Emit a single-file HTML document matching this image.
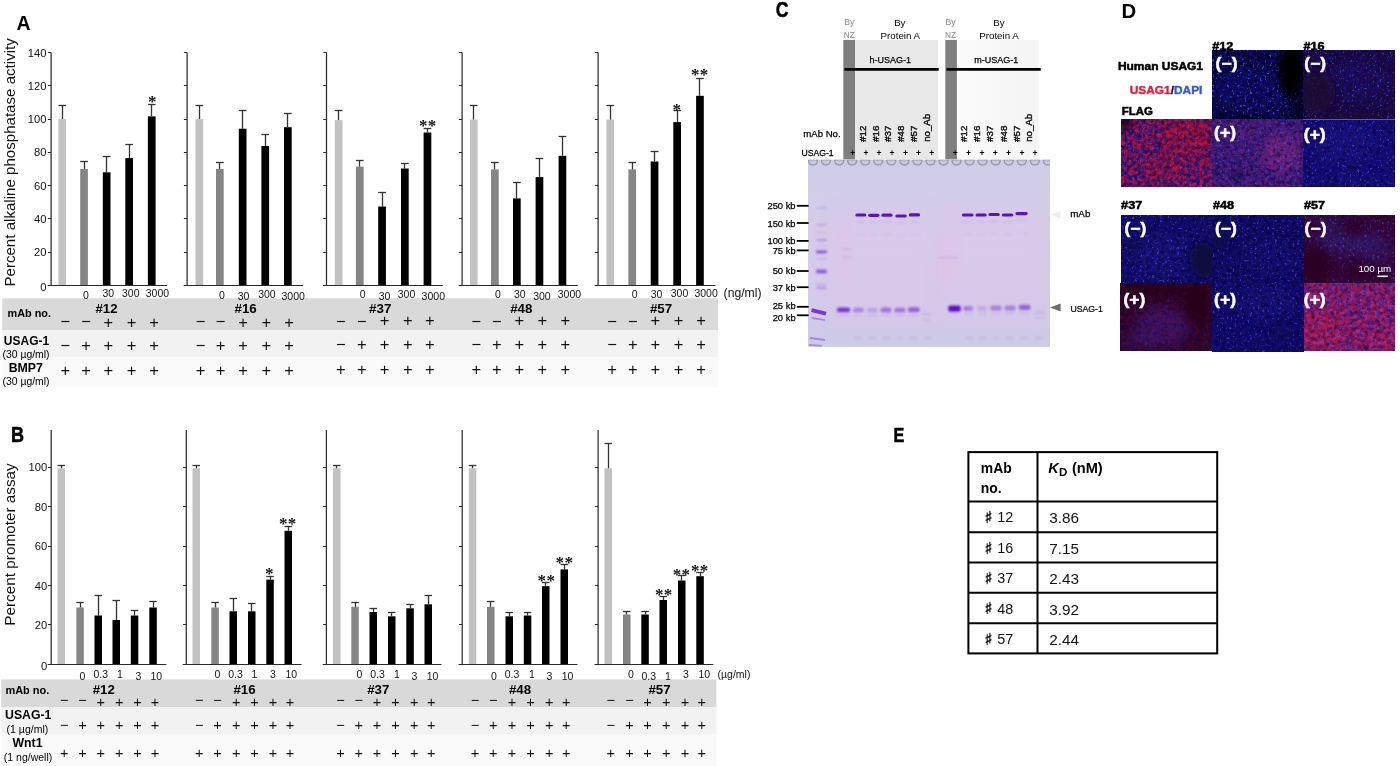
<!DOCTYPE html>
<html lang="en"><head><meta charset="utf-8"><title>Figure</title>
<style>html,body{margin:0;padding:0;background:#fff;}svg{display:block;}text{white-space:pre;}</style></head><body>
<svg width="1400" height="766" viewBox="0 0 1400 766" font-family='"Liberation Sans", sans-serif'>
<rect x="0.0" y="0.0" width="1400.0" height="766.0" fill="#fff"/>
<rect x="2.2" y="298.3" width="715.8" height="32.1" fill="#d9d9d9"/>
<rect x="2.2" y="330.4" width="715.8" height="27.0" fill="#f2f2f2"/>
<rect x="2.2" y="357.4" width="715.8" height="30.0" fill="#fafafa"/>
<rect x="58.4" y="119.1" width="7.7" height="166.2" fill="#c2c2c2"/>
<line x1="62.5" y1="119.1" x2="62.5" y2="105.5" stroke="#333" stroke-width="1.3"/>
<line x1="58.4" y1="105.5" x2="66.1" y2="105.5" stroke="#333" stroke-width="1.3"/>
<rect x="80.2" y="168.9" width="7.7" height="116.4" fill="#858585"/>
<line x1="84.5" y1="168.9" x2="84.5" y2="161.5" stroke="#333" stroke-width="1.3"/>
<line x1="80.2" y1="161.5" x2="87.9" y2="161.5" stroke="#333" stroke-width="1.3"/>
<rect x="102.8" y="172.3" width="7.7" height="113.0" fill="#000"/>
<line x1="106.5" y1="172.3" x2="106.5" y2="156.5" stroke="#333" stroke-width="1.3"/>
<line x1="102.8" y1="156.5" x2="110.5" y2="156.5" stroke="#333" stroke-width="1.3"/>
<rect x="125.3" y="158.1" width="7.7" height="127.2" fill="#000"/>
<line x1="129.5" y1="158.1" x2="129.5" y2="144.5" stroke="#333" stroke-width="1.3"/>
<line x1="125.3" y1="144.5" x2="133.0" y2="144.5" stroke="#333" stroke-width="1.3"/>
<rect x="147.9" y="116.4" width="7.7" height="168.9" fill="#000"/>
<line x1="151.5" y1="116.4" x2="151.5" y2="104.5" stroke="#333" stroke-width="1.3"/>
<line x1="147.9" y1="104.5" x2="155.6" y2="104.5" stroke="#333" stroke-width="1.3"/>
<line x1="51.1" y1="52.6" x2="51.1" y2="285.3" stroke="#2a2a2a" stroke-width="1.25"/>
<line x1="47.7" y1="285.5" x2="167.1" y2="285.5" stroke="#2a2a2a" stroke-width="1"/>
<line x1="47.9" y1="252.5" x2="51.1" y2="252.5" stroke="#2a2a2a" stroke-width="1"/>
<line x1="47.9" y1="218.5" x2="51.1" y2="218.5" stroke="#2a2a2a" stroke-width="1"/>
<line x1="47.9" y1="185.5" x2="51.1" y2="185.5" stroke="#2a2a2a" stroke-width="1"/>
<line x1="47.9" y1="152.5" x2="51.1" y2="152.5" stroke="#2a2a2a" stroke-width="1"/>
<line x1="47.9" y1="119.5" x2="51.1" y2="119.5" stroke="#2a2a2a" stroke-width="1"/>
<line x1="47.9" y1="85.5" x2="51.1" y2="85.5" stroke="#2a2a2a" stroke-width="1"/>
<line x1="47.9" y1="52.5" x2="51.1" y2="52.5" stroke="#2a2a2a" stroke-width="1"/>
<rect x="195.5" y="119.1" width="7.7" height="166.2" fill="#c2c2c2"/>
<line x1="199.5" y1="119.1" x2="199.5" y2="105.5" stroke="#333" stroke-width="1.3"/>
<line x1="195.5" y1="105.5" x2="203.2" y2="105.5" stroke="#333" stroke-width="1.3"/>
<rect x="216.0" y="168.9" width="7.7" height="116.4" fill="#858585"/>
<line x1="219.5" y1="168.9" x2="219.5" y2="162.5" stroke="#333" stroke-width="1.3"/>
<line x1="216.0" y1="162.5" x2="223.7" y2="162.5" stroke="#333" stroke-width="1.3"/>
<rect x="238.8" y="128.7" width="7.7" height="156.6" fill="#000"/>
<line x1="242.5" y1="128.7" x2="242.5" y2="110.5" stroke="#333" stroke-width="1.3"/>
<line x1="238.8" y1="110.5" x2="246.5" y2="110.5" stroke="#333" stroke-width="1.3"/>
<rect x="261.4" y="146.0" width="7.7" height="139.3" fill="#000"/>
<line x1="265.5" y1="146.0" x2="265.5" y2="134.5" stroke="#333" stroke-width="1.3"/>
<line x1="261.4" y1="134.5" x2="269.1" y2="134.5" stroke="#333" stroke-width="1.3"/>
<rect x="284.0" y="127.2" width="7.7" height="158.1" fill="#000"/>
<line x1="287.5" y1="127.2" x2="287.5" y2="113.5" stroke="#333" stroke-width="1.3"/>
<line x1="284.0" y1="113.5" x2="291.7" y2="113.5" stroke="#333" stroke-width="1.3"/>
<line x1="187.1" y1="52.6" x2="187.1" y2="285.3" stroke="#2a2a2a" stroke-width="1.25"/>
<line x1="183.7" y1="285.5" x2="303.2" y2="285.5" stroke="#2a2a2a" stroke-width="1"/>
<line x1="183.9" y1="252.5" x2="187.1" y2="252.5" stroke="#2a2a2a" stroke-width="1"/>
<line x1="183.9" y1="218.5" x2="187.1" y2="218.5" stroke="#2a2a2a" stroke-width="1"/>
<line x1="183.9" y1="185.5" x2="187.1" y2="185.5" stroke="#2a2a2a" stroke-width="1"/>
<line x1="183.9" y1="152.5" x2="187.1" y2="152.5" stroke="#2a2a2a" stroke-width="1"/>
<line x1="183.9" y1="119.5" x2="187.1" y2="119.5" stroke="#2a2a2a" stroke-width="1"/>
<line x1="183.9" y1="85.5" x2="187.1" y2="85.5" stroke="#2a2a2a" stroke-width="1"/>
<line x1="183.9" y1="52.5" x2="187.1" y2="52.5" stroke="#2a2a2a" stroke-width="1"/>
<rect x="334.8" y="120.1" width="7.7" height="165.2" fill="#c2c2c2"/>
<line x1="338.5" y1="120.1" x2="338.5" y2="110.5" stroke="#333" stroke-width="1.3"/>
<line x1="334.8" y1="110.5" x2="342.5" y2="110.5" stroke="#333" stroke-width="1.3"/>
<rect x="355.9" y="166.6" width="7.7" height="118.7" fill="#858585"/>
<line x1="359.5" y1="166.6" x2="359.5" y2="160.5" stroke="#333" stroke-width="1.3"/>
<line x1="355.9" y1="160.5" x2="363.6" y2="160.5" stroke="#333" stroke-width="1.3"/>
<rect x="378.2" y="206.5" width="7.7" height="78.8" fill="#000"/>
<line x1="382.5" y1="206.5" x2="382.5" y2="192.5" stroke="#333" stroke-width="1.3"/>
<line x1="378.2" y1="192.5" x2="385.9" y2="192.5" stroke="#333" stroke-width="1.3"/>
<rect x="401.0" y="168.5" width="7.7" height="116.8" fill="#000"/>
<line x1="404.5" y1="168.5" x2="404.5" y2="163.5" stroke="#333" stroke-width="1.3"/>
<line x1="401.0" y1="163.5" x2="408.7" y2="163.5" stroke="#333" stroke-width="1.3"/>
<rect x="423.6" y="132.5" width="7.7" height="152.8" fill="#000"/>
<line x1="427.5" y1="132.5" x2="427.5" y2="128.5" stroke="#333" stroke-width="1.3"/>
<line x1="423.6" y1="128.5" x2="431.3" y2="128.5" stroke="#333" stroke-width="1.3"/>
<line x1="326.5" y1="52.6" x2="326.5" y2="285.3" stroke="#2a2a2a" stroke-width="1.25"/>
<line x1="323.1" y1="285.5" x2="442.8" y2="285.5" stroke="#2a2a2a" stroke-width="1"/>
<line x1="323.3" y1="252.5" x2="326.5" y2="252.5" stroke="#2a2a2a" stroke-width="1"/>
<line x1="323.3" y1="218.5" x2="326.5" y2="218.5" stroke="#2a2a2a" stroke-width="1"/>
<line x1="323.3" y1="185.5" x2="326.5" y2="185.5" stroke="#2a2a2a" stroke-width="1"/>
<line x1="323.3" y1="152.5" x2="326.5" y2="152.5" stroke="#2a2a2a" stroke-width="1"/>
<line x1="323.3" y1="119.5" x2="326.5" y2="119.5" stroke="#2a2a2a" stroke-width="1"/>
<line x1="323.3" y1="85.5" x2="326.5" y2="85.5" stroke="#2a2a2a" stroke-width="1"/>
<line x1="323.3" y1="52.5" x2="326.5" y2="52.5" stroke="#2a2a2a" stroke-width="1"/>
<rect x="469.9" y="119.6" width="7.7" height="165.7" fill="#c2c2c2"/>
<line x1="473.5" y1="119.6" x2="473.5" y2="105.5" stroke="#333" stroke-width="1.3"/>
<line x1="469.9" y1="105.5" x2="477.6" y2="105.5" stroke="#333" stroke-width="1.3"/>
<rect x="491.0" y="169.4" width="7.7" height="115.9" fill="#858585"/>
<line x1="494.5" y1="169.4" x2="494.5" y2="162.5" stroke="#333" stroke-width="1.3"/>
<line x1="491.0" y1="162.5" x2="498.7" y2="162.5" stroke="#333" stroke-width="1.3"/>
<rect x="513.0" y="198.4" width="7.7" height="86.9" fill="#000"/>
<line x1="516.5" y1="198.4" x2="516.5" y2="182.5" stroke="#333" stroke-width="1.3"/>
<line x1="513.0" y1="182.5" x2="520.7" y2="182.5" stroke="#333" stroke-width="1.3"/>
<rect x="535.6" y="177.1" width="7.7" height="108.2" fill="#000"/>
<line x1="539.5" y1="177.1" x2="539.5" y2="158.5" stroke="#333" stroke-width="1.3"/>
<line x1="535.6" y1="158.5" x2="543.3" y2="158.5" stroke="#333" stroke-width="1.3"/>
<rect x="558.6" y="155.8" width="7.7" height="129.5" fill="#000"/>
<line x1="562.5" y1="155.8" x2="562.5" y2="136.5" stroke="#333" stroke-width="1.3"/>
<line x1="558.6" y1="136.5" x2="566.3" y2="136.5" stroke="#333" stroke-width="1.3"/>
<line x1="462.1" y1="52.6" x2="462.1" y2="285.3" stroke="#2a2a2a" stroke-width="1.25"/>
<line x1="458.7" y1="285.5" x2="577.8" y2="285.5" stroke="#2a2a2a" stroke-width="1"/>
<line x1="458.9" y1="252.5" x2="462.1" y2="252.5" stroke="#2a2a2a" stroke-width="1"/>
<line x1="458.9" y1="218.5" x2="462.1" y2="218.5" stroke="#2a2a2a" stroke-width="1"/>
<line x1="458.9" y1="185.5" x2="462.1" y2="185.5" stroke="#2a2a2a" stroke-width="1"/>
<line x1="458.9" y1="152.5" x2="462.1" y2="152.5" stroke="#2a2a2a" stroke-width="1"/>
<line x1="458.9" y1="119.5" x2="462.1" y2="119.5" stroke="#2a2a2a" stroke-width="1"/>
<line x1="458.9" y1="85.5" x2="462.1" y2="85.5" stroke="#2a2a2a" stroke-width="1"/>
<line x1="458.9" y1="52.5" x2="462.1" y2="52.5" stroke="#2a2a2a" stroke-width="1"/>
<rect x="606.4" y="119.6" width="7.7" height="165.7" fill="#c2c2c2"/>
<line x1="610.5" y1="119.6" x2="610.5" y2="105.5" stroke="#333" stroke-width="1.3"/>
<line x1="606.4" y1="105.5" x2="614.1" y2="105.5" stroke="#333" stroke-width="1.3"/>
<rect x="628.4" y="169.4" width="7.7" height="115.9" fill="#858585"/>
<line x1="632.5" y1="169.4" x2="632.5" y2="162.5" stroke="#333" stroke-width="1.3"/>
<line x1="628.4" y1="162.5" x2="636.1" y2="162.5" stroke="#333" stroke-width="1.3"/>
<rect x="650.7" y="161.5" width="7.7" height="123.8" fill="#000"/>
<line x1="654.5" y1="161.5" x2="654.5" y2="151.5" stroke="#333" stroke-width="1.3"/>
<line x1="650.7" y1="151.5" x2="658.4" y2="151.5" stroke="#333" stroke-width="1.3"/>
<rect x="673.3" y="122.1" width="7.7" height="163.2" fill="#000"/>
<line x1="677.5" y1="122.1" x2="677.5" y2="110.5" stroke="#333" stroke-width="1.3"/>
<line x1="673.3" y1="110.5" x2="681.0" y2="110.5" stroke="#333" stroke-width="1.3"/>
<rect x="696.1" y="95.8" width="7.7" height="189.5" fill="#000"/>
<line x1="699.5" y1="95.8" x2="699.5" y2="78.5" stroke="#333" stroke-width="1.3"/>
<line x1="696.1" y1="78.5" x2="703.8" y2="78.5" stroke="#333" stroke-width="1.3"/>
<line x1="598.1" y1="52.6" x2="598.1" y2="285.3" stroke="#2a2a2a" stroke-width="1.25"/>
<line x1="594.7" y1="285.5" x2="715.3" y2="285.5" stroke="#2a2a2a" stroke-width="1"/>
<line x1="594.9" y1="252.5" x2="598.1" y2="252.5" stroke="#2a2a2a" stroke-width="1"/>
<line x1="594.9" y1="218.5" x2="598.1" y2="218.5" stroke="#2a2a2a" stroke-width="1"/>
<line x1="594.9" y1="185.5" x2="598.1" y2="185.5" stroke="#2a2a2a" stroke-width="1"/>
<line x1="594.9" y1="152.5" x2="598.1" y2="152.5" stroke="#2a2a2a" stroke-width="1"/>
<line x1="594.9" y1="119.5" x2="598.1" y2="119.5" stroke="#2a2a2a" stroke-width="1"/>
<line x1="594.9" y1="85.5" x2="598.1" y2="85.5" stroke="#2a2a2a" stroke-width="1"/>
<line x1="594.9" y1="52.5" x2="598.1" y2="52.5" stroke="#2a2a2a" stroke-width="1"/>
<text x="46.4" y="291.1" font-size="11.2" text-anchor="end" fill="#111">0</text>
<text x="46.4" y="256.2" font-size="11.2" text-anchor="end" fill="#111">20</text>
<text x="46.4" y="222.9" font-size="11.2" text-anchor="end" fill="#111">40</text>
<text x="46.4" y="189.7" font-size="11.2" text-anchor="end" fill="#111">60</text>
<text x="46.4" y="156.4" font-size="11.2" text-anchor="end" fill="#111">80</text>
<text x="46.4" y="123.2" font-size="11.2" text-anchor="end" fill="#111">100</text>
<text x="46.4" y="90.0" font-size="11.2" text-anchor="end" fill="#111">120</text>
<text x="46.4" y="56.7" font-size="11.2" text-anchor="end" fill="#111">140</text>
<text x="86.0" y="298.6" font-size="10.5" text-anchor="middle" fill="#111">0</text>
<text x="108.3" y="297.1" font-size="10.5" text-anchor="middle" fill="#111">30</text>
<text x="130.8" y="297.1" font-size="10.5" text-anchor="middle" fill="#111">300</text>
<text x="157.4" y="297.1" font-size="10.5" text-anchor="middle" fill="#111">3000</text>
<text x="221.8" y="299.1" font-size="10.5" text-anchor="middle" fill="#111">0</text>
<text x="243.6" y="299.6" font-size="10.5" text-anchor="middle" fill="#111">30</text>
<text x="266.9" y="298.3" font-size="10.5" text-anchor="middle" fill="#111">300</text>
<text x="293.2" y="299.6" font-size="10.5" text-anchor="middle" fill="#111">3000</text>
<text x="362.7" y="298.3" font-size="10.5" text-anchor="middle" fill="#111">0</text>
<text x="384.5" y="299.6" font-size="10.5" text-anchor="middle" fill="#111">30</text>
<text x="406.5" y="298.3" font-size="10.5" text-anchor="middle" fill="#111">300</text>
<text x="433.3" y="299.6" font-size="10.5" text-anchor="middle" fill="#111">3000</text>
<text x="498.0" y="298.3" font-size="10.5" text-anchor="middle" fill="#111">0</text>
<text x="519.8" y="298.3" font-size="10.5" text-anchor="middle" fill="#111">30</text>
<text x="541.9" y="299.6" font-size="10.5" text-anchor="middle" fill="#111">300</text>
<text x="569.4" y="297.8" font-size="10.5" text-anchor="middle" fill="#111">3000</text>
<text x="634.7" y="297.8" font-size="10.5" text-anchor="middle" fill="#111">0</text>
<text x="656.5" y="298.3" font-size="10.5" text-anchor="middle" fill="#111">30</text>
<text x="679.5" y="297.1" font-size="10.5" text-anchor="middle" fill="#111">300</text>
<text x="706.1" y="297.1" font-size="10.5" text-anchor="middle" fill="#111">3000</text>
<text x="723.6" y="297.4" font-size="12.2" text-anchor="start" fill="#111">(ng/ml)</text>
<text x="106.5" y="313.1" font-size="13.3" text-anchor="middle" font-weight="bold" fill="#000">#12</text>
<text x="245.6" y="313.1" font-size="13.3" text-anchor="middle" font-weight="bold" fill="#000">#16</text>
<text x="380.2" y="313.1" font-size="13.3" text-anchor="middle" font-weight="bold" fill="#000">#37</text>
<text x="521.3" y="313.1" font-size="13.3" text-anchor="middle" font-weight="bold" fill="#000">#48</text>
<text x="661.0" y="313.1" font-size="13.3" text-anchor="middle" font-weight="bold" fill="#000">#57</text>
<text x="65.2" y="326.6" font-size="16.5" text-anchor="middle" fill="#111">−</text>
<text x="65.2" y="351.3" font-size="16.5" text-anchor="middle" fill="#111">−</text>
<text x="65.2" y="375.6" font-size="16.5" text-anchor="middle" fill="#111">+</text>
<text x="86.0" y="326.6" font-size="16.5" text-anchor="middle" fill="#111">−</text>
<text x="86.0" y="351.3" font-size="16.5" text-anchor="middle" fill="#111">+</text>
<text x="86.0" y="375.6" font-size="16.5" text-anchor="middle" fill="#111">+</text>
<text x="108.3" y="327.6" font-size="16.5" text-anchor="middle" fill="#111">+</text>
<text x="108.3" y="351.3" font-size="16.5" text-anchor="middle" fill="#111">+</text>
<text x="108.3" y="375.6" font-size="16.5" text-anchor="middle" fill="#111">+</text>
<text x="131.6" y="327.6" font-size="16.5" text-anchor="middle" fill="#111">+</text>
<text x="131.6" y="351.3" font-size="16.5" text-anchor="middle" fill="#111">+</text>
<text x="131.6" y="375.6" font-size="16.5" text-anchor="middle" fill="#111">+</text>
<text x="154.1" y="327.6" font-size="16.5" text-anchor="middle" fill="#111">+</text>
<text x="154.1" y="351.3" font-size="16.5" text-anchor="middle" fill="#111">+</text>
<text x="154.1" y="375.6" font-size="16.5" text-anchor="middle" fill="#111">+</text>
<text x="200.5" y="326.6" font-size="16.5" text-anchor="middle" fill="#111">−</text>
<text x="200.5" y="351.3" font-size="16.5" text-anchor="middle" fill="#111">−</text>
<text x="200.5" y="375.6" font-size="16.5" text-anchor="middle" fill="#111">+</text>
<text x="220.6" y="326.6" font-size="16.5" text-anchor="middle" fill="#111">−</text>
<text x="220.6" y="351.3" font-size="16.5" text-anchor="middle" fill="#111">+</text>
<text x="220.6" y="375.6" font-size="16.5" text-anchor="middle" fill="#111">+</text>
<text x="243.1" y="327.6" font-size="16.5" text-anchor="middle" fill="#111">+</text>
<text x="243.1" y="351.3" font-size="16.5" text-anchor="middle" fill="#111">+</text>
<text x="243.1" y="375.6" font-size="16.5" text-anchor="middle" fill="#111">+</text>
<text x="266.4" y="327.6" font-size="16.5" text-anchor="middle" fill="#111">+</text>
<text x="266.4" y="351.3" font-size="16.5" text-anchor="middle" fill="#111">+</text>
<text x="266.4" y="375.6" font-size="16.5" text-anchor="middle" fill="#111">+</text>
<text x="289.0" y="327.6" font-size="16.5" text-anchor="middle" fill="#111">+</text>
<text x="289.0" y="351.3" font-size="16.5" text-anchor="middle" fill="#111">+</text>
<text x="289.0" y="375.6" font-size="16.5" text-anchor="middle" fill="#111">+</text>
<text x="340.9" y="326.6" font-size="16.5" text-anchor="middle" fill="#111">−</text>
<text x="340.9" y="350.0" font-size="16.5" text-anchor="middle" fill="#111">−</text>
<text x="340.9" y="374.8" font-size="16.5" text-anchor="middle" fill="#111">+</text>
<text x="361.9" y="326.6" font-size="16.5" text-anchor="middle" fill="#111">−</text>
<text x="361.9" y="350.0" font-size="16.5" text-anchor="middle" fill="#111">+</text>
<text x="361.9" y="374.8" font-size="16.5" text-anchor="middle" fill="#111">+</text>
<text x="384.5" y="326.3" font-size="16.5" text-anchor="middle" fill="#111">+</text>
<text x="384.5" y="350.0" font-size="16.5" text-anchor="middle" fill="#111">+</text>
<text x="384.5" y="374.8" font-size="16.5" text-anchor="middle" fill="#111">+</text>
<text x="407.8" y="326.3" font-size="16.5" text-anchor="middle" fill="#111">+</text>
<text x="407.8" y="350.0" font-size="16.5" text-anchor="middle" fill="#111">+</text>
<text x="407.8" y="374.8" font-size="16.5" text-anchor="middle" fill="#111">+</text>
<text x="429.8" y="326.3" font-size="16.5" text-anchor="middle" fill="#111">+</text>
<text x="429.8" y="350.0" font-size="16.5" text-anchor="middle" fill="#111">+</text>
<text x="429.8" y="374.8" font-size="16.5" text-anchor="middle" fill="#111">+</text>
<text x="476.2" y="326.6" font-size="16.5" text-anchor="middle" fill="#111">−</text>
<text x="476.2" y="350.0" font-size="16.5" text-anchor="middle" fill="#111">−</text>
<text x="476.2" y="374.8" font-size="16.5" text-anchor="middle" fill="#111">+</text>
<text x="496.7" y="326.6" font-size="16.5" text-anchor="middle" fill="#111">−</text>
<text x="496.7" y="350.0" font-size="16.5" text-anchor="middle" fill="#111">+</text>
<text x="496.7" y="374.8" font-size="16.5" text-anchor="middle" fill="#111">+</text>
<text x="519.3" y="326.3" font-size="16.5" text-anchor="middle" fill="#111">+</text>
<text x="519.3" y="350.0" font-size="16.5" text-anchor="middle" fill="#111">+</text>
<text x="519.3" y="374.8" font-size="16.5" text-anchor="middle" fill="#111">+</text>
<text x="542.4" y="326.3" font-size="16.5" text-anchor="middle" fill="#111">+</text>
<text x="542.4" y="350.0" font-size="16.5" text-anchor="middle" fill="#111">+</text>
<text x="542.4" y="374.8" font-size="16.5" text-anchor="middle" fill="#111">+</text>
<text x="565.2" y="326.3" font-size="16.5" text-anchor="middle" fill="#111">+</text>
<text x="565.2" y="350.0" font-size="16.5" text-anchor="middle" fill="#111">+</text>
<text x="565.2" y="374.8" font-size="16.5" text-anchor="middle" fill="#111">+</text>
<text x="612.1" y="326.6" font-size="16.5" text-anchor="middle" fill="#111">−</text>
<text x="612.1" y="350.0" font-size="16.5" text-anchor="middle" fill="#111">−</text>
<text x="612.1" y="374.8" font-size="16.5" text-anchor="middle" fill="#111">+</text>
<text x="632.7" y="326.6" font-size="16.5" text-anchor="middle" fill="#111">−</text>
<text x="632.7" y="350.0" font-size="16.5" text-anchor="middle" fill="#111">+</text>
<text x="632.7" y="374.8" font-size="16.5" text-anchor="middle" fill="#111">+</text>
<text x="655.2" y="326.3" font-size="16.5" text-anchor="middle" fill="#111">+</text>
<text x="655.2" y="350.0" font-size="16.5" text-anchor="middle" fill="#111">+</text>
<text x="655.2" y="374.8" font-size="16.5" text-anchor="middle" fill="#111">+</text>
<text x="678.5" y="326.3" font-size="16.5" text-anchor="middle" fill="#111">+</text>
<text x="678.5" y="350.0" font-size="16.5" text-anchor="middle" fill="#111">+</text>
<text x="678.5" y="374.8" font-size="16.5" text-anchor="middle" fill="#111">+</text>
<text x="701.1" y="326.3" font-size="16.5" text-anchor="middle" fill="#111">+</text>
<text x="701.1" y="350.0" font-size="16.5" text-anchor="middle" fill="#111">+</text>
<text x="701.1" y="374.8" font-size="16.5" text-anchor="middle" fill="#111">+</text>
<text transform="translate(7.5,317.4) scale(0.955,1)" font-size="11.4" text-anchor="start" font-weight="bold" fill="#000">mAb no.</text>
<text x="3.8" y="344.7" font-size="12.0" text-anchor="start" font-weight="bold" fill="#000">USAG-1</text>
<text x="2.5" y="357.5" font-size="10.4" text-anchor="start" fill="#000">(30 µg/ml)</text>
<text x="25.8" y="372.4" font-size="12.3" text-anchor="middle" font-weight="bold" fill="#000">BMP7</text>
<text x="2.5" y="384.9" font-size="10.4" text-anchor="start" fill="#000">(30 µg/ml)</text>
<text x="152.4" y="107.2" font-size="17" text-anchor="middle" font-weight="bold" fill="#111" font-family='"Liberation Serif", serif' letter-spacing="0.3">*</text>
<text x="427.8" y="130.5" font-size="17" text-anchor="middle" font-weight="bold" fill="#111" font-family='"Liberation Serif", serif' letter-spacing="0.3">**</text>
<text x="677.0" y="114.5" font-size="17" text-anchor="middle" font-weight="bold" fill="#111" font-family='"Liberation Serif", serif' letter-spacing="0.3">*</text>
<text x="699.8" y="79.9" font-size="17" text-anchor="middle" font-weight="bold" fill="#111" font-family='"Liberation Serif", serif' letter-spacing="0.3">**</text>
<text transform="translate(15.2,162.4) rotate(-90)" font-size="15.1" text-anchor="middle" fill="#111">Percent alkaline phosphatase activity</text>
<text transform="translate(16.5,30.4) scale(0.93,1)" font-size="21" text-anchor="start" font-weight="bold" fill="#000">A</text>
<rect x="1.2" y="679.4" width="715.2" height="27.6" fill="#d9d9d9"/>
<rect x="1.2" y="707.0" width="715.2" height="27.5" fill="#f2f2f2"/>
<rect x="1.2" y="734.5" width="715.2" height="31.5" fill="#fafafa"/>
<rect x="57.5" y="468.2" width="7.5" height="196.1" fill="#c2c2c2"/>
<line x1="61.5" y1="468.2" x2="61.5" y2="465.5" stroke="#333" stroke-width="1.3"/>
<line x1="57.5" y1="465.5" x2="65.0" y2="465.5" stroke="#333" stroke-width="1.3"/>
<rect x="76.3" y="607.5" width="7.5" height="56.8" fill="#858585"/>
<line x1="80.5" y1="607.5" x2="80.5" y2="602.5" stroke="#333" stroke-width="1.3"/>
<line x1="76.3" y1="602.5" x2="83.8" y2="602.5" stroke="#333" stroke-width="1.3"/>
<rect x="94.5" y="615.5" width="7.5" height="48.8" fill="#000"/>
<line x1="98.5" y1="615.5" x2="98.5" y2="595.5" stroke="#333" stroke-width="1.3"/>
<line x1="94.5" y1="595.5" x2="102.0" y2="595.5" stroke="#333" stroke-width="1.3"/>
<rect x="112.5" y="620.0" width="7.5" height="44.3" fill="#000"/>
<line x1="116.5" y1="620.0" x2="116.5" y2="600.5" stroke="#333" stroke-width="1.3"/>
<line x1="112.5" y1="600.5" x2="120.0" y2="600.5" stroke="#333" stroke-width="1.3"/>
<rect x="130.8" y="615.5" width="7.5" height="48.8" fill="#000"/>
<line x1="134.5" y1="615.5" x2="134.5" y2="610.5" stroke="#333" stroke-width="1.3"/>
<line x1="130.8" y1="610.5" x2="138.3" y2="610.5" stroke="#333" stroke-width="1.3"/>
<rect x="149.3" y="607.5" width="7.5" height="56.8" fill="#000"/>
<line x1="153.5" y1="607.5" x2="153.5" y2="601.5" stroke="#333" stroke-width="1.3"/>
<line x1="149.3" y1="601.5" x2="156.8" y2="601.5" stroke="#333" stroke-width="1.3"/>
<line x1="51.2" y1="430.0" x2="51.2" y2="664.3" stroke="#2a2a2a" stroke-width="1.25"/>
<line x1="47.6" y1="664.5" x2="166.3" y2="664.5" stroke="#2a2a2a" stroke-width="1"/>
<line x1="48.0" y1="624.5" x2="51.2" y2="624.5" stroke="#2a2a2a" stroke-width="1"/>
<line x1="48.0" y1="585.5" x2="51.2" y2="585.5" stroke="#2a2a2a" stroke-width="1"/>
<line x1="48.0" y1="546.5" x2="51.2" y2="546.5" stroke="#2a2a2a" stroke-width="1"/>
<line x1="48.0" y1="506.5" x2="51.2" y2="506.5" stroke="#2a2a2a" stroke-width="1"/>
<line x1="48.0" y1="467.5" x2="51.2" y2="467.5" stroke="#2a2a2a" stroke-width="1"/>
<rect x="192.5" y="468.2" width="7.5" height="196.1" fill="#c2c2c2"/>
<line x1="196.5" y1="468.2" x2="196.5" y2="465.5" stroke="#333" stroke-width="1.3"/>
<line x1="192.5" y1="465.5" x2="200.0" y2="465.5" stroke="#333" stroke-width="1.3"/>
<rect x="211.3" y="607.5" width="7.5" height="56.8" fill="#858585"/>
<line x1="215.5" y1="607.5" x2="215.5" y2="602.5" stroke="#333" stroke-width="1.3"/>
<line x1="211.3" y1="602.5" x2="218.8" y2="602.5" stroke="#333" stroke-width="1.3"/>
<rect x="229.5" y="611.3" width="7.5" height="53.0" fill="#000"/>
<line x1="233.5" y1="611.3" x2="233.5" y2="598.5" stroke="#333" stroke-width="1.3"/>
<line x1="229.5" y1="598.5" x2="237.0" y2="598.5" stroke="#333" stroke-width="1.3"/>
<rect x="248.0" y="611.3" width="7.5" height="53.0" fill="#000"/>
<line x1="251.5" y1="611.3" x2="251.5" y2="603.5" stroke="#333" stroke-width="1.3"/>
<line x1="248.0" y1="603.5" x2="255.5" y2="603.5" stroke="#333" stroke-width="1.3"/>
<rect x="266.3" y="579.6" width="7.5" height="84.7" fill="#000"/>
<line x1="270.5" y1="579.6" x2="270.5" y2="576.5" stroke="#333" stroke-width="1.3"/>
<line x1="266.3" y1="576.5" x2="273.8" y2="576.5" stroke="#333" stroke-width="1.3"/>
<rect x="284.5" y="530.8" width="7.5" height="133.5" fill="#000"/>
<line x1="288.5" y1="530.8" x2="288.5" y2="526.5" stroke="#333" stroke-width="1.3"/>
<line x1="284.5" y1="526.5" x2="292.0" y2="526.5" stroke="#333" stroke-width="1.3"/>
<line x1="186.3" y1="430.0" x2="186.3" y2="664.3" stroke="#2a2a2a" stroke-width="1.25"/>
<line x1="182.7" y1="664.5" x2="301.5" y2="664.5" stroke="#2a2a2a" stroke-width="1"/>
<line x1="183.1" y1="624.5" x2="186.3" y2="624.5" stroke="#2a2a2a" stroke-width="1"/>
<line x1="183.1" y1="585.5" x2="186.3" y2="585.5" stroke="#2a2a2a" stroke-width="1"/>
<line x1="183.1" y1="546.5" x2="186.3" y2="546.5" stroke="#2a2a2a" stroke-width="1"/>
<line x1="183.1" y1="506.5" x2="186.3" y2="506.5" stroke="#2a2a2a" stroke-width="1"/>
<line x1="183.1" y1="467.5" x2="186.3" y2="467.5" stroke="#2a2a2a" stroke-width="1"/>
<rect x="333.0" y="468.2" width="7.5" height="196.1" fill="#c2c2c2"/>
<line x1="336.5" y1="468.2" x2="336.5" y2="465.5" stroke="#333" stroke-width="1.3"/>
<line x1="333.0" y1="465.5" x2="340.5" y2="465.5" stroke="#333" stroke-width="1.3"/>
<rect x="351.3" y="606.8" width="7.5" height="57.5" fill="#858585"/>
<line x1="355.5" y1="606.8" x2="355.5" y2="602.5" stroke="#333" stroke-width="1.3"/>
<line x1="351.3" y1="602.5" x2="358.8" y2="602.5" stroke="#333" stroke-width="1.3"/>
<rect x="369.5" y="612.0" width="7.5" height="52.3" fill="#000"/>
<line x1="373.5" y1="612.0" x2="373.5" y2="608.5" stroke="#333" stroke-width="1.3"/>
<line x1="369.5" y1="608.5" x2="377.0" y2="608.5" stroke="#333" stroke-width="1.3"/>
<rect x="388.0" y="616.3" width="7.5" height="48.0" fill="#000"/>
<line x1="391.5" y1="616.3" x2="391.5" y2="612.5" stroke="#333" stroke-width="1.3"/>
<line x1="388.0" y1="612.5" x2="395.5" y2="612.5" stroke="#333" stroke-width="1.3"/>
<rect x="406.3" y="608.3" width="7.5" height="56.0" fill="#000"/>
<line x1="410.5" y1="608.3" x2="410.5" y2="604.5" stroke="#333" stroke-width="1.3"/>
<line x1="406.3" y1="604.5" x2="413.8" y2="604.5" stroke="#333" stroke-width="1.3"/>
<rect x="424.5" y="604.3" width="7.5" height="60.0" fill="#000"/>
<line x1="428.5" y1="604.3" x2="428.5" y2="595.5" stroke="#333" stroke-width="1.3"/>
<line x1="424.5" y1="595.5" x2="432.0" y2="595.5" stroke="#333" stroke-width="1.3"/>
<line x1="326.4" y1="430.0" x2="326.4" y2="664.3" stroke="#2a2a2a" stroke-width="1.25"/>
<line x1="322.8" y1="664.5" x2="441.5" y2="664.5" stroke="#2a2a2a" stroke-width="1"/>
<line x1="323.2" y1="624.5" x2="326.4" y2="624.5" stroke="#2a2a2a" stroke-width="1"/>
<line x1="323.2" y1="585.5" x2="326.4" y2="585.5" stroke="#2a2a2a" stroke-width="1"/>
<line x1="323.2" y1="546.5" x2="326.4" y2="546.5" stroke="#2a2a2a" stroke-width="1"/>
<line x1="323.2" y1="506.5" x2="326.4" y2="506.5" stroke="#2a2a2a" stroke-width="1"/>
<line x1="323.2" y1="467.5" x2="326.4" y2="467.5" stroke="#2a2a2a" stroke-width="1"/>
<rect x="468.8" y="468.2" width="7.5" height="196.1" fill="#c2c2c2"/>
<line x1="472.5" y1="468.2" x2="472.5" y2="465.5" stroke="#333" stroke-width="1.3"/>
<line x1="468.8" y1="465.5" x2="476.3" y2="465.5" stroke="#333" stroke-width="1.3"/>
<rect x="487.0" y="606.8" width="7.5" height="57.5" fill="#858585"/>
<line x1="490.5" y1="606.8" x2="490.5" y2="601.5" stroke="#333" stroke-width="1.3"/>
<line x1="487.0" y1="601.5" x2="494.5" y2="601.5" stroke="#333" stroke-width="1.3"/>
<rect x="505.5" y="616.3" width="7.5" height="48.0" fill="#000"/>
<line x1="509.5" y1="616.3" x2="509.5" y2="612.5" stroke="#333" stroke-width="1.3"/>
<line x1="505.5" y1="612.5" x2="513.0" y2="612.5" stroke="#333" stroke-width="1.3"/>
<rect x="523.8" y="615.5" width="7.5" height="48.8" fill="#000"/>
<line x1="527.5" y1="615.5" x2="527.5" y2="612.5" stroke="#333" stroke-width="1.3"/>
<line x1="523.8" y1="612.5" x2="531.3" y2="612.5" stroke="#333" stroke-width="1.3"/>
<rect x="542.0" y="586.2" width="7.5" height="78.1" fill="#000"/>
<line x1="545.5" y1="586.2" x2="545.5" y2="582.5" stroke="#333" stroke-width="1.3"/>
<line x1="542.0" y1="582.5" x2="549.5" y2="582.5" stroke="#333" stroke-width="1.3"/>
<rect x="560.5" y="569.4" width="7.5" height="94.9" fill="#000"/>
<line x1="564.5" y1="569.4" x2="564.5" y2="564.5" stroke="#333" stroke-width="1.3"/>
<line x1="560.5" y1="564.5" x2="568.0" y2="564.5" stroke="#333" stroke-width="1.3"/>
<line x1="462.2" y1="430.0" x2="462.2" y2="664.3" stroke="#2a2a2a" stroke-width="1.25"/>
<line x1="458.6" y1="664.5" x2="577.5" y2="664.5" stroke="#2a2a2a" stroke-width="1"/>
<line x1="459.0" y1="624.5" x2="462.2" y2="624.5" stroke="#2a2a2a" stroke-width="1"/>
<line x1="459.0" y1="585.5" x2="462.2" y2="585.5" stroke="#2a2a2a" stroke-width="1"/>
<line x1="459.0" y1="546.5" x2="462.2" y2="546.5" stroke="#2a2a2a" stroke-width="1"/>
<line x1="459.0" y1="506.5" x2="462.2" y2="506.5" stroke="#2a2a2a" stroke-width="1"/>
<line x1="459.0" y1="467.5" x2="462.2" y2="467.5" stroke="#2a2a2a" stroke-width="1"/>
<rect x="604.5" y="468.2" width="7.5" height="196.1" fill="#c2c2c2"/>
<line x1="608.5" y1="468.2" x2="608.5" y2="443.5" stroke="#333" stroke-width="1.3"/>
<line x1="604.5" y1="443.5" x2="612.0" y2="443.5" stroke="#333" stroke-width="1.3"/>
<rect x="623.0" y="614.5" width="7.5" height="49.8" fill="#858585"/>
<line x1="626.5" y1="614.5" x2="626.5" y2="611.5" stroke="#333" stroke-width="1.3"/>
<line x1="623.0" y1="611.5" x2="630.5" y2="611.5" stroke="#333" stroke-width="1.3"/>
<rect x="641.3" y="614.5" width="7.5" height="49.8" fill="#000"/>
<line x1="645.5" y1="614.5" x2="645.5" y2="611.5" stroke="#333" stroke-width="1.3"/>
<line x1="641.3" y1="611.5" x2="648.8" y2="611.5" stroke="#333" stroke-width="1.3"/>
<rect x="659.5" y="600.0" width="7.5" height="64.3" fill="#000"/>
<line x1="663.5" y1="600.0" x2="663.5" y2="596.5" stroke="#333" stroke-width="1.3"/>
<line x1="659.5" y1="596.5" x2="667.0" y2="596.5" stroke="#333" stroke-width="1.3"/>
<rect x="678.0" y="580.5" width="7.5" height="83.8" fill="#000"/>
<line x1="681.5" y1="580.5" x2="681.5" y2="575.5" stroke="#333" stroke-width="1.3"/>
<line x1="678.0" y1="575.5" x2="685.5" y2="575.5" stroke="#333" stroke-width="1.3"/>
<rect x="696.3" y="576.2" width="7.5" height="88.1" fill="#000"/>
<line x1="700.5" y1="576.2" x2="700.5" y2="572.5" stroke="#333" stroke-width="1.3"/>
<line x1="696.3" y1="572.5" x2="703.8" y2="572.5" stroke="#333" stroke-width="1.3"/>
<line x1="598.1" y1="430.0" x2="598.1" y2="664.3" stroke="#2a2a2a" stroke-width="1.25"/>
<line x1="594.5" y1="664.5" x2="713.3" y2="664.5" stroke="#2a2a2a" stroke-width="1"/>
<line x1="594.9" y1="624.5" x2="598.1" y2="624.5" stroke="#2a2a2a" stroke-width="1"/>
<line x1="594.9" y1="585.5" x2="598.1" y2="585.5" stroke="#2a2a2a" stroke-width="1"/>
<line x1="594.9" y1="546.5" x2="598.1" y2="546.5" stroke="#2a2a2a" stroke-width="1"/>
<line x1="594.9" y1="506.5" x2="598.1" y2="506.5" stroke="#2a2a2a" stroke-width="1"/>
<line x1="594.9" y1="467.5" x2="598.1" y2="467.5" stroke="#2a2a2a" stroke-width="1"/>
<text x="47.2" y="670.1" font-size="11.2" text-anchor="end" fill="#111">0</text>
<text x="47.2" y="629.1" font-size="11.2" text-anchor="end" fill="#111">20</text>
<text x="47.2" y="589.7" font-size="11.2" text-anchor="end" fill="#111">40</text>
<text x="47.2" y="550.2" font-size="11.2" text-anchor="end" fill="#111">60</text>
<text x="47.2" y="510.8" font-size="11.2" text-anchor="end" fill="#111">80</text>
<text x="47.2" y="471.4" font-size="11.2" text-anchor="end" fill="#111">100</text>
<text x="82.5" y="679.6" font-size="10.5" text-anchor="middle" fill="#111">0</text>
<text x="100.8" y="678.3" font-size="10.5" text-anchor="middle" fill="#111">0.3</text>
<text x="120.0" y="678.3" font-size="10.5" text-anchor="middle" fill="#111">1</text>
<text x="138.3" y="679.6" font-size="10.5" text-anchor="middle" fill="#111">3</text>
<text x="156.3" y="679.6" font-size="10.5" text-anchor="middle" fill="#111">10</text>
<text x="217.5" y="678.3" font-size="10.5" text-anchor="middle" fill="#111">0</text>
<text x="235.5" y="678.3" font-size="10.5" text-anchor="middle" fill="#111">0.3</text>
<text x="254.5" y="678.3" font-size="10.5" text-anchor="middle" fill="#111">1</text>
<text x="273.0" y="678.3" font-size="10.5" text-anchor="middle" fill="#111">3</text>
<text x="291.3" y="678.3" font-size="10.5" text-anchor="middle" fill="#111">10</text>
<text x="359.3" y="678.3" font-size="10.5" text-anchor="middle" fill="#111">0</text>
<text x="377.5" y="678.3" font-size="10.5" text-anchor="middle" fill="#111">0.3</text>
<text x="397.0" y="678.3" font-size="10.5" text-anchor="middle" fill="#111">1</text>
<text x="414.5" y="679.6" font-size="10.5" text-anchor="middle" fill="#111">3</text>
<text x="432.5" y="679.6" font-size="10.5" text-anchor="middle" fill="#111">10</text>
<text x="493.8" y="679.6" font-size="10.5" text-anchor="middle" fill="#111">0</text>
<text x="512.0" y="678.3" font-size="10.5" text-anchor="middle" fill="#111">0.3</text>
<text x="531.8" y="678.3" font-size="10.5" text-anchor="middle" fill="#111">1</text>
<text x="549.5" y="679.6" font-size="10.5" text-anchor="middle" fill="#111">3</text>
<text x="567.5" y="679.6" font-size="10.5" text-anchor="middle" fill="#111">10</text>
<text x="630.8" y="678.3" font-size="10.5" text-anchor="middle" fill="#111">0</text>
<text x="648.8" y="679.6" font-size="10.5" text-anchor="middle" fill="#111">0.3</text>
<text x="668.0" y="679.6" font-size="10.5" text-anchor="middle" fill="#111">1</text>
<text x="685.8" y="678.3" font-size="10.5" text-anchor="middle" fill="#111">3</text>
<text x="704.3" y="678.3" font-size="10.5" text-anchor="middle" fill="#111">10</text>
<text x="717.5" y="678.3" font-size="10.5" text-anchor="start" fill="#111">(µg/ml)</text>
<text x="103.8" y="694.3" font-size="13.3" text-anchor="middle" font-weight="bold" fill="#000">#12</text>
<text x="244.5" y="694.3" font-size="13.3" text-anchor="middle" font-weight="bold" fill="#000">#16</text>
<text x="378.3" y="694.3" font-size="13.3" text-anchor="middle" font-weight="bold" fill="#000">#37</text>
<text x="520.0" y="694.3" font-size="13.3" text-anchor="middle" font-weight="bold" fill="#000">#48</text>
<text x="659.5" y="694.3" font-size="13.3" text-anchor="middle" font-weight="bold" fill="#000">#57</text>
<text x="64.3" y="704.7" font-size="14.5" text-anchor="middle" fill="#111">−</text>
<text x="64.3" y="729.7" font-size="14.5" text-anchor="middle" fill="#111">−</text>
<text x="64.3" y="757.9" font-size="14.5" text-anchor="middle" fill="#111">+</text>
<text x="82.5" y="704.7" font-size="14.5" text-anchor="middle" fill="#111">−</text>
<text x="82.5" y="729.7" font-size="14.5" text-anchor="middle" fill="#111">+</text>
<text x="82.5" y="757.9" font-size="14.5" text-anchor="middle" fill="#111">+</text>
<text x="100.8" y="706.7" font-size="14.5" text-anchor="middle" fill="#111">+</text>
<text x="100.8" y="729.7" font-size="14.5" text-anchor="middle" fill="#111">+</text>
<text x="100.8" y="757.9" font-size="14.5" text-anchor="middle" fill="#111">+</text>
<text x="119.3" y="706.7" font-size="14.5" text-anchor="middle" fill="#111">+</text>
<text x="119.3" y="729.7" font-size="14.5" text-anchor="middle" fill="#111">+</text>
<text x="119.3" y="757.9" font-size="14.5" text-anchor="middle" fill="#111">+</text>
<text x="137.5" y="706.7" font-size="14.5" text-anchor="middle" fill="#111">+</text>
<text x="137.5" y="729.7" font-size="14.5" text-anchor="middle" fill="#111">+</text>
<text x="137.5" y="757.9" font-size="14.5" text-anchor="middle" fill="#111">+</text>
<text x="155.0" y="706.7" font-size="14.5" text-anchor="middle" fill="#111">+</text>
<text x="155.0" y="729.7" font-size="14.5" text-anchor="middle" fill="#111">+</text>
<text x="155.0" y="757.9" font-size="14.5" text-anchor="middle" fill="#111">+</text>
<text x="199.3" y="704.7" font-size="14.5" text-anchor="middle" fill="#111">−</text>
<text x="199.3" y="729.7" font-size="14.5" text-anchor="middle" fill="#111">−</text>
<text x="199.3" y="757.9" font-size="14.5" text-anchor="middle" fill="#111">+</text>
<text x="217.5" y="704.7" font-size="14.5" text-anchor="middle" fill="#111">−</text>
<text x="217.5" y="729.7" font-size="14.5" text-anchor="middle" fill="#111">+</text>
<text x="217.5" y="757.9" font-size="14.5" text-anchor="middle" fill="#111">+</text>
<text x="236.3" y="706.7" font-size="14.5" text-anchor="middle" fill="#111">+</text>
<text x="236.3" y="729.7" font-size="14.5" text-anchor="middle" fill="#111">+</text>
<text x="236.3" y="757.9" font-size="14.5" text-anchor="middle" fill="#111">+</text>
<text x="254.5" y="706.7" font-size="14.5" text-anchor="middle" fill="#111">+</text>
<text x="254.5" y="729.7" font-size="14.5" text-anchor="middle" fill="#111">+</text>
<text x="254.5" y="757.9" font-size="14.5" text-anchor="middle" fill="#111">+</text>
<text x="273.0" y="706.7" font-size="14.5" text-anchor="middle" fill="#111">+</text>
<text x="273.0" y="729.7" font-size="14.5" text-anchor="middle" fill="#111">+</text>
<text x="273.0" y="757.9" font-size="14.5" text-anchor="middle" fill="#111">+</text>
<text x="290.0" y="706.7" font-size="14.5" text-anchor="middle" fill="#111">+</text>
<text x="290.0" y="729.7" font-size="14.5" text-anchor="middle" fill="#111">+</text>
<text x="290.0" y="757.9" font-size="14.5" text-anchor="middle" fill="#111">+</text>
<text x="340.5" y="704.7" font-size="14.5" text-anchor="middle" fill="#111">−</text>
<text x="340.5" y="729.7" font-size="14.5" text-anchor="middle" fill="#111">−</text>
<text x="340.5" y="757.9" font-size="14.5" text-anchor="middle" fill="#111">+</text>
<text x="358.8" y="704.7" font-size="14.5" text-anchor="middle" fill="#111">−</text>
<text x="358.8" y="729.7" font-size="14.5" text-anchor="middle" fill="#111">+</text>
<text x="358.8" y="757.9" font-size="14.5" text-anchor="middle" fill="#111">+</text>
<text x="377.0" y="706.7" font-size="14.5" text-anchor="middle" fill="#111">+</text>
<text x="377.0" y="729.7" font-size="14.5" text-anchor="middle" fill="#111">+</text>
<text x="377.0" y="757.9" font-size="14.5" text-anchor="middle" fill="#111">+</text>
<text x="395.5" y="706.7" font-size="14.5" text-anchor="middle" fill="#111">+</text>
<text x="395.5" y="729.7" font-size="14.5" text-anchor="middle" fill="#111">+</text>
<text x="395.5" y="757.9" font-size="14.5" text-anchor="middle" fill="#111">+</text>
<text x="414.3" y="706.7" font-size="14.5" text-anchor="middle" fill="#111">+</text>
<text x="414.3" y="729.7" font-size="14.5" text-anchor="middle" fill="#111">+</text>
<text x="414.3" y="757.9" font-size="14.5" text-anchor="middle" fill="#111">+</text>
<text x="431.3" y="706.7" font-size="14.5" text-anchor="middle" fill="#111">+</text>
<text x="431.3" y="729.7" font-size="14.5" text-anchor="middle" fill="#111">+</text>
<text x="431.3" y="757.9" font-size="14.5" text-anchor="middle" fill="#111">+</text>
<text x="475.0" y="704.7" font-size="14.5" text-anchor="middle" fill="#111">−</text>
<text x="475.0" y="729.7" font-size="14.5" text-anchor="middle" fill="#111">−</text>
<text x="475.0" y="757.9" font-size="14.5" text-anchor="middle" fill="#111">+</text>
<text x="493.3" y="704.7" font-size="14.5" text-anchor="middle" fill="#111">−</text>
<text x="493.3" y="729.7" font-size="14.5" text-anchor="middle" fill="#111">+</text>
<text x="493.3" y="757.9" font-size="14.5" text-anchor="middle" fill="#111">+</text>
<text x="512.0" y="706.7" font-size="14.5" text-anchor="middle" fill="#111">+</text>
<text x="512.0" y="729.7" font-size="14.5" text-anchor="middle" fill="#111">+</text>
<text x="512.0" y="757.9" font-size="14.5" text-anchor="middle" fill="#111">+</text>
<text x="530.5" y="706.7" font-size="14.5" text-anchor="middle" fill="#111">+</text>
<text x="530.5" y="729.7" font-size="14.5" text-anchor="middle" fill="#111">+</text>
<text x="530.5" y="757.9" font-size="14.5" text-anchor="middle" fill="#111">+</text>
<text x="549.3" y="706.7" font-size="14.5" text-anchor="middle" fill="#111">+</text>
<text x="549.3" y="729.7" font-size="14.5" text-anchor="middle" fill="#111">+</text>
<text x="549.3" y="757.9" font-size="14.5" text-anchor="middle" fill="#111">+</text>
<text x="566.3" y="706.7" font-size="14.5" text-anchor="middle" fill="#111">+</text>
<text x="566.3" y="729.7" font-size="14.5" text-anchor="middle" fill="#111">+</text>
<text x="566.3" y="757.9" font-size="14.5" text-anchor="middle" fill="#111">+</text>
<text x="610.8" y="704.7" font-size="14.5" text-anchor="middle" fill="#111">−</text>
<text x="610.8" y="729.7" font-size="14.5" text-anchor="middle" fill="#111">−</text>
<text x="610.8" y="757.9" font-size="14.5" text-anchor="middle" fill="#111">+</text>
<text x="629.5" y="704.7" font-size="14.5" text-anchor="middle" fill="#111">−</text>
<text x="629.5" y="729.7" font-size="14.5" text-anchor="middle" fill="#111">+</text>
<text x="629.5" y="757.9" font-size="14.5" text-anchor="middle" fill="#111">+</text>
<text x="647.5" y="706.7" font-size="14.5" text-anchor="middle" fill="#111">+</text>
<text x="647.5" y="729.7" font-size="14.5" text-anchor="middle" fill="#111">+</text>
<text x="647.5" y="757.9" font-size="14.5" text-anchor="middle" fill="#111">+</text>
<text x="666.3" y="706.7" font-size="14.5" text-anchor="middle" fill="#111">+</text>
<text x="666.3" y="729.7" font-size="14.5" text-anchor="middle" fill="#111">+</text>
<text x="666.3" y="757.9" font-size="14.5" text-anchor="middle" fill="#111">+</text>
<text x="685.0" y="706.7" font-size="14.5" text-anchor="middle" fill="#111">+</text>
<text x="685.0" y="729.7" font-size="14.5" text-anchor="middle" fill="#111">+</text>
<text x="685.0" y="757.9" font-size="14.5" text-anchor="middle" fill="#111">+</text>
<text x="701.8" y="706.7" font-size="14.5" text-anchor="middle" fill="#111">+</text>
<text x="701.8" y="729.7" font-size="14.5" text-anchor="middle" fill="#111">+</text>
<text x="701.8" y="757.9" font-size="14.5" text-anchor="middle" fill="#111">+</text>
<text transform="translate(5.4,694.3) scale(0.965,1)" font-size="11.4" text-anchor="start" font-weight="bold" fill="#000">mAb no.</text>
<text x="5.0" y="719.4" font-size="12.3" text-anchor="start" font-weight="bold" fill="#000">USAG-1</text>
<text x="6.6" y="733.0" font-size="10.5" text-anchor="start" fill="#000">(1 µg/ml)</text>
<text x="27.5" y="747.4" font-size="12.3" text-anchor="middle" font-weight="bold" fill="#000">Wnt1</text>
<text x="3.8" y="761.3" font-size="10.5" text-anchor="start" fill="#000">(1 ng/well)</text>
<text x="269.4" y="578.9" font-size="17" text-anchor="middle" font-weight="bold" fill="#111" font-family='"Liberation Serif", serif' letter-spacing="0.3">*</text>
<text x="287.7" y="528.8" font-size="17" text-anchor="middle" font-weight="bold" fill="#111" font-family='"Liberation Serif", serif' letter-spacing="0.3">**</text>
<text x="546.4" y="586.4" font-size="17" text-anchor="middle" font-weight="bold" fill="#111" font-family='"Liberation Serif", serif' letter-spacing="0.3">**</text>
<text x="564.4" y="567.6" font-size="17" text-anchor="middle" font-weight="bold" fill="#111" font-family='"Liberation Serif", serif' letter-spacing="0.3">**</text>
<text x="663.8" y="599.7" font-size="17" text-anchor="middle" font-weight="bold" fill="#111" font-family='"Liberation Serif", serif' letter-spacing="0.3">**</text>
<text x="681.6" y="579.6" font-size="17" text-anchor="middle" font-weight="bold" fill="#111" font-family='"Liberation Serif", serif' letter-spacing="0.3">**</text>
<text x="699.8" y="575.6" font-size="17" text-anchor="middle" font-weight="bold" fill="#111" font-family='"Liberation Serif", serif' letter-spacing="0.3">**</text>
<text transform="translate(15.2,544.5) rotate(-90)" font-size="15.3" text-anchor="middle" fill="#111">Percent promoter assay</text>
<text transform="translate(11.0,441.9) scale(0.84,1)" font-size="21.5" text-anchor="start" font-weight="bold" fill="#000" stroke="#000" stroke-width="0.5">B</text>
<text transform="translate(775.8,16.8) scale(0.8,1)" font-size="22" text-anchor="start" font-weight="bold" fill="#000" stroke="#000" stroke-width="0.5">C</text>
<rect x="855.0" y="39.9" width="83.2" height="119.5" fill="#e8e8e8"/>
<linearGradient id="gC" x1="0" x2="1" y1="0" y2="0"><stop offset="0" stop-color="#fbfbfb"/><stop offset="1" stop-color="#f4f4f4"/></linearGradient>
<rect x="956.9" y="39.9" width="81.6" height="119.5" fill="url(#gC)"/>
<rect x="843.3" y="39.9" width="11.7" height="119.5" fill="#7f7f7f"/>
<rect x="945.3" y="39.9" width="11.6" height="119.5" fill="#7f7f7f"/>
<line x1="844.4" y1="69.4" x2="938.7" y2="69.4" stroke="#000" stroke-width="2.7"/>
<line x1="946.4" y1="69.4" x2="1040.7" y2="69.4" stroke="#000" stroke-width="2.7"/>
<text x="849.2" y="25.4" font-size="8.7" text-anchor="middle" fill="#858585">By</text>
<text transform="translate(849.2,37.5) scale(0.95,1)" font-size="8.7" text-anchor="middle" fill="#858585">NZ</text>
<text x="950.6" y="25.4" font-size="8.7" text-anchor="middle" fill="#858585">By</text>
<text transform="translate(950.6,37.5) scale(0.95,1)" font-size="8.7" text-anchor="middle" fill="#858585">NZ</text>
<text transform="translate(899.8,26.4) scale(1.1,1)" font-size="8.8" text-anchor="middle" fill="#000">By</text>
<text transform="translate(900.3,39.0) scale(1.11,1)" font-size="8.8" text-anchor="middle" fill="#000">Protein A</text>
<text transform="translate(999.0,26.0) scale(1.1,1)" font-size="8.8" text-anchor="middle" fill="#000">By</text>
<text transform="translate(999.0,38.6) scale(1.11,1)" font-size="8.8" text-anchor="middle" fill="#000">Protein A</text>
<text x="890.3" y="63.0" font-size="9.0" text-anchor="middle" fill="#000" stroke="#000" stroke-width="0.25">h-USAG-1</text>
<text x="996.3" y="63.0" font-size="9.0" text-anchor="middle" fill="#000" stroke="#000" stroke-width="0.25">m-USAG-1</text>
<text x="803.3" y="136.9" font-size="9.6" text-anchor="start" fill="#000" stroke="#000" stroke-width="0.25">mAb No.</text>
<text transform="translate(801.5,156.3) scale(0.96,1)" font-size="9.0" text-anchor="start" fill="#000" stroke="#000" stroke-width="0.25">USAG-1</text>
<text transform="translate(866.0,141.8) rotate(-90)" font-size="9.7" fill="#111" stroke="#111" stroke-width="0.4">#12</text>
<text transform="translate(878.6,141.8) rotate(-90)" font-size="9.7" fill="#111" stroke="#111" stroke-width="0.4">#16</text>
<text transform="translate(891.3,141.8) rotate(-90)" font-size="9.7" fill="#111" stroke="#111" stroke-width="0.4">#37</text>
<text transform="translate(903.7,141.8) rotate(-90)" font-size="9.7" fill="#111" stroke="#111" stroke-width="0.4">#48</text>
<text transform="translate(916.8,141.8) rotate(-90)" font-size="9.7" fill="#111" stroke="#111" stroke-width="0.4">#57</text>
<text transform="translate(930.1,141.8) rotate(-90)" font-size="9.7" fill="#111" stroke="#111" stroke-width="0.4">no_Ab</text>
<text transform="translate(967.4,141.8) rotate(-90)" font-size="9.7" fill="#111" stroke="#111" stroke-width="0.4">#12</text>
<text transform="translate(980.3,141.8) rotate(-90)" font-size="9.7" fill="#111" stroke="#111" stroke-width="0.4">#16</text>
<text transform="translate(993.3,141.8) rotate(-90)" font-size="9.7" fill="#111" stroke="#111" stroke-width="0.4">#37</text>
<text transform="translate(1006.7,141.8) rotate(-90)" font-size="9.7" fill="#111" stroke="#111" stroke-width="0.4">#48</text>
<text transform="translate(1020.0,141.8) rotate(-90)" font-size="9.7" fill="#111" stroke="#111" stroke-width="0.4">#57</text>
<text transform="translate(1032.4,141.8) rotate(-90)" font-size="9.7" fill="#111" stroke="#111" stroke-width="0.4">no_Ab</text>
<text x="852.8" y="155.6" font-size="8.5" text-anchor="middle" font-weight="bold" fill="#000">+</text>
<text x="865.9" y="155.6" font-size="8.5" text-anchor="middle" font-weight="bold" fill="#000">+</text>
<text x="879.0" y="155.6" font-size="8.5" text-anchor="middle" font-weight="bold" fill="#000">+</text>
<text x="892.1" y="155.6" font-size="8.5" text-anchor="middle" font-weight="bold" fill="#000">+</text>
<text x="905.4" y="155.6" font-size="8.5" text-anchor="middle" font-weight="bold" fill="#000">+</text>
<text x="918.5" y="155.6" font-size="8.5" text-anchor="middle" font-weight="bold" fill="#000">+</text>
<text x="931.8" y="155.6" font-size="8.5" text-anchor="middle" font-weight="bold" fill="#000">+</text>
<text x="955.3" y="155.6" font-size="8.5" text-anchor="middle" font-weight="bold" fill="#000">+</text>
<text x="968.6" y="155.6" font-size="8.5" text-anchor="middle" font-weight="bold" fill="#000">+</text>
<text x="981.9" y="155.6" font-size="8.5" text-anchor="middle" font-weight="bold" fill="#000">+</text>
<text x="995.2" y="155.6" font-size="8.5" text-anchor="middle" font-weight="bold" fill="#000">+</text>
<text x="1008.5" y="155.6" font-size="8.5" text-anchor="middle" font-weight="bold" fill="#000">+</text>
<text x="1021.9" y="155.6" font-size="8.5" text-anchor="middle" font-weight="bold" fill="#000">+</text>
<text x="1035.0" y="155.6" font-size="8.5" text-anchor="middle" font-weight="bold" fill="#000">+</text>
<linearGradient id="gel" x1="0" x2="0" y1="0" y2="1"><stop offset="0" stop-color="#cecce6"/><stop offset="0.22" stop-color="#d3cde9"/><stop offset="0.5" stop-color="#d7cbea"/><stop offset="0.8" stop-color="#d4cae9"/><stop offset="1" stop-color="#cccbe7"/></linearGradient>
<filter id="b1" x="-20%" y="-100%" width="140%" height="300%"><feGaussianBlur stdDeviation="0.7"/></filter>
<filter id="b2" x="-20%" y="-100%" width="140%" height="300%"><feGaussianBlur stdDeviation="1.2"/></filter>
<filter id="b4" x="-30%" y="-30%" width="160%" height="160%"><feGaussianBlur stdDeviation="7"/></filter>
<clipPath id="gclip"><rect x="808.0" y="159.8" width="242.0" height="187.0"/></clipPath>
<rect x="808.0" y="159.8" width="242.0" height="187.0" fill="url(#gel)"/>
<g clip-path="url(#gclip)">
<rect x="832.0" y="208.0" width="100.0" height="120.0" fill="#dcc6ea" filter="url(#b4)" opacity="0.35"/>
<rect x="938.0" y="208.0" width="104.0" height="120.0" fill="#dcc6ea" filter="url(#b4)" opacity="0.35"/>
<rect x="838.0" y="225.0" width="12.0" height="60.0" fill="#e4c0e8" filter="url(#b4)" opacity="0.5"/>
<rect x="938.0" y="235.0" width="20.0" height="50.0" fill="#e4c0e8" filter="url(#b4)" opacity="0.5"/>
<path d="M808.4 159.8 Q808.6 165 813.0 165 Q817.4 165 817.6 159.8 Z" fill="#c9c9d6" stroke="#9090a8" stroke-width="1.4" opacity="0.85" filter="url(#b1)"/>
<path d="M821.4 159.8 Q821.6 165 826.0 165 Q830.4 165 830.6 159.8 Z" fill="#c9c9d6" stroke="#9090a8" stroke-width="1.4" opacity="0.85" filter="url(#b1)"/>
<path d="M834.5 159.8 Q834.7 165 839.1 165 Q843.5 165 843.7 159.8 Z" fill="#c9c9d6" stroke="#9090a8" stroke-width="1.4" opacity="0.85" filter="url(#b1)"/>
<path d="M847.5 159.8 Q847.8 165 852.1 165 Q856.5 165 856.8 159.8 Z" fill="#c9c9d6" stroke="#9090a8" stroke-width="1.4" opacity="0.85" filter="url(#b1)"/>
<path d="M860.6 159.8 Q860.8 165 865.2 165 Q869.6 165 869.8 159.8 Z" fill="#c9c9d6" stroke="#9090a8" stroke-width="1.4" opacity="0.85" filter="url(#b1)"/>
<path d="M873.6 159.8 Q873.9 165 878.2 165 Q882.6 165 882.9 159.8 Z" fill="#c9c9d6" stroke="#9090a8" stroke-width="1.4" opacity="0.85" filter="url(#b1)"/>
<path d="M886.7 159.8 Q886.9 165 891.3 165 Q895.7 165 895.9 159.8 Z" fill="#c9c9d6" stroke="#9090a8" stroke-width="1.4" opacity="0.85" filter="url(#b1)"/>
<path d="M899.8 159.8 Q900.0 165 904.4 165 Q908.8 165 909.0 159.8 Z" fill="#c9c9d6" stroke="#9090a8" stroke-width="1.4" opacity="0.85" filter="url(#b1)"/>
<path d="M912.8 159.8 Q913.0 165 917.4 165 Q921.8 165 922.0 159.8 Z" fill="#c9c9d6" stroke="#9090a8" stroke-width="1.4" opacity="0.85" filter="url(#b1)"/>
<path d="M925.9 159.8 Q926.1 165 930.5 165 Q934.9 165 935.1 159.8 Z" fill="#c9c9d6" stroke="#9090a8" stroke-width="1.4" opacity="0.85" filter="url(#b1)"/>
<path d="M938.9 159.8 Q939.1 165 943.5 165 Q947.9 165 948.1 159.8 Z" fill="#c9c9d6" stroke="#9090a8" stroke-width="1.4" opacity="0.85" filter="url(#b1)"/>
<path d="M951.9 159.8 Q952.1 165 956.5 165 Q960.9 165 961.1 159.8 Z" fill="#c9c9d6" stroke="#9090a8" stroke-width="1.4" opacity="0.85" filter="url(#b1)"/>
<path d="M965.0 159.8 Q965.2 165 969.6 165 Q974.0 165 974.2 159.8 Z" fill="#c9c9d6" stroke="#9090a8" stroke-width="1.4" opacity="0.85" filter="url(#b1)"/>
<path d="M978.0 159.8 Q978.2 165 982.6 165 Q987.0 165 987.2 159.8 Z" fill="#c9c9d6" stroke="#9090a8" stroke-width="1.4" opacity="0.85" filter="url(#b1)"/>
<path d="M991.1 159.8 Q991.3 165 995.7 165 Q1000.1 165 1000.3 159.8 Z" fill="#c9c9d6" stroke="#9090a8" stroke-width="1.4" opacity="0.85" filter="url(#b1)"/>
<path d="M1004.1 159.8 Q1004.4 165 1008.8 165 Q1013.1 165 1013.4 159.8 Z" fill="#c9c9d6" stroke="#9090a8" stroke-width="1.4" opacity="0.85" filter="url(#b1)"/>
<path d="M1017.2 159.8 Q1017.4 165 1021.8 165 Q1026.2 165 1026.4 159.8 Z" fill="#c9c9d6" stroke="#9090a8" stroke-width="1.4" opacity="0.85" filter="url(#b1)"/>
<path d="M1030.2 159.8 Q1030.4 165 1034.8 165 Q1039.2 165 1039.4 159.8 Z" fill="#c9c9d6" stroke="#9090a8" stroke-width="1.4" opacity="0.85" filter="url(#b1)"/>
<path d="M1043.3 159.8 Q1043.5 165 1047.9 165 Q1052.3 165 1052.5 159.8 Z" fill="#c9c9d6" stroke="#9090a8" stroke-width="1.4" opacity="0.85" filter="url(#b1)"/>
<rect x="816.2" y="206.9" width="10.4" height="2.0" fill="#9a6be0" filter="url(#b2)" opacity="0.28"/>
<rect x="816.2" y="223.8" width="10.4" height="2.0" fill="#9a6be0" filter="url(#b2)" opacity="0.32"/>
<rect x="816.2" y="231.7" width="10.4" height="1.6" fill="#9a6be0" filter="url(#b2)" opacity="0.20"/>
<rect x="816.2" y="239.0" width="10.4" height="2.2" fill="#8a55dd" filter="url(#b2)" opacity="0.44"/>
<rect x="816.2" y="244.7" width="10.4" height="1.6" fill="#9a6be0" filter="url(#b2)" opacity="0.20"/>
<rect x="816.2" y="250.4" width="10.4" height="3.0" fill="#6d33d4" filter="url(#b2)" opacity="0.72"/>
<rect x="816.2" y="258.2" width="10.4" height="1.6" fill="#9a6be0" filter="url(#b2)" opacity="0.24"/>
<rect x="816.2" y="269.6" width="10.4" height="3.8" fill="#6d33d4" filter="url(#b2)" opacity="0.72"/>
<rect x="816.2" y="283.6" width="10.4" height="2.0" fill="#9a6be0" filter="url(#b2)" opacity="0.32"/>
<rect x="816.2" y="286.8" width="10.4" height="2.4" fill="#8a55dd" filter="url(#b2)" opacity="0.40"/>
<path d="M811.5 310.2 L826 313.6" stroke="#6a2cd4" stroke-width="3.8" filter="url(#b1)" opacity="0.9"/>
<path d="M811.5 317.8 L825 320.2" stroke="#8a55dd" stroke-width="1.8" filter="url(#b1)" opacity="0.6"/>
<path d="M810 338 L825 340" stroke="#8a55dd" stroke-width="2" filter="url(#b1)" opacity="0.6"/>
<path d="M809 344.8 L822 346" stroke="#8a55dd" stroke-width="1.8" filter="url(#b1)" opacity="0.55"/>
<rect x="855.3" y="213.4" width="11.1" height="3.2" fill="#5812b6" rx="1.6" filter="url(#b1)"/>
<rect x="856.3" y="221.0" width="9.1" height="1.6" fill="#c4a8ea" filter="url(#b2)" opacity="0.55"/>
<rect x="856.3" y="234.0" width="9.1" height="1.4" fill="#cdb0ea" filter="url(#b2)" opacity="0.45"/>
<rect x="868.3" y="213.7" width="11.1" height="3.2" fill="#5812b6" rx="1.6" filter="url(#b1)"/>
<rect x="869.3" y="221.3" width="9.1" height="1.6" fill="#c4a8ea" filter="url(#b2)" opacity="0.55"/>
<rect x="869.3" y="234.3" width="9.1" height="1.4" fill="#cdb0ea" filter="url(#b2)" opacity="0.45"/>
<rect x="881.4" y="213.6" width="11.1" height="3.2" fill="#5812b6" rx="1.6" filter="url(#b1)"/>
<rect x="882.4" y="221.2" width="9.1" height="1.6" fill="#c4a8ea" filter="url(#b2)" opacity="0.55"/>
<rect x="882.4" y="234.2" width="9.1" height="1.4" fill="#cdb0ea" filter="url(#b2)" opacity="0.45"/>
<rect x="895.3" y="214.4" width="11.5" height="3.2" fill="#5812b6" rx="1.6" filter="url(#b1)"/>
<rect x="896.3" y="222.0" width="9.5" height="1.6" fill="#c4a8ea" filter="url(#b2)" opacity="0.55"/>
<rect x="896.3" y="235.0" width="9.5" height="1.4" fill="#cdb0ea" filter="url(#b2)" opacity="0.45"/>
<rect x="908.8" y="213.3" width="11.3" height="3.2" fill="#5812b6" rx="1.6" filter="url(#b1)"/>
<rect x="909.8" y="220.9" width="9.3" height="1.6" fill="#c4a8ea" filter="url(#b2)" opacity="0.55"/>
<rect x="909.8" y="233.9" width="9.3" height="1.4" fill="#cdb0ea" filter="url(#b2)" opacity="0.45"/>
<rect x="961.9" y="213.4" width="11.7" height="3.2" fill="#5812b6" rx="1.6" filter="url(#b1)"/>
<rect x="962.9" y="221.0" width="9.7" height="1.6" fill="#c4a8ea" filter="url(#b2)" opacity="0.55"/>
<rect x="962.9" y="234.0" width="9.7" height="1.4" fill="#cdb0ea" filter="url(#b2)" opacity="0.45"/>
<rect x="975.5" y="213.4" width="11.2" height="3.2" fill="#5812b6" rx="1.6" filter="url(#b1)"/>
<rect x="976.5" y="221.0" width="9.2" height="1.6" fill="#c4a8ea" filter="url(#b2)" opacity="0.55"/>
<rect x="976.5" y="234.0" width="9.2" height="1.4" fill="#cdb0ea" filter="url(#b2)" opacity="0.45"/>
<rect x="988.5" y="212.9" width="11.2" height="3.2" fill="#5812b6" rx="1.6" filter="url(#b1)"/>
<rect x="989.5" y="220.5" width="9.2" height="1.6" fill="#c4a8ea" filter="url(#b2)" opacity="0.55"/>
<rect x="989.5" y="233.5" width="9.2" height="1.4" fill="#cdb0ea" filter="url(#b2)" opacity="0.45"/>
<rect x="1001.8" y="213.4" width="11.5" height="3.2" fill="#5812b6" rx="1.6" filter="url(#b1)"/>
<rect x="1002.8" y="221.0" width="9.5" height="1.6" fill="#c4a8ea" filter="url(#b2)" opacity="0.55"/>
<rect x="1002.8" y="234.0" width="9.5" height="1.4" fill="#cdb0ea" filter="url(#b2)" opacity="0.45"/>
<rect x="1015.4" y="212.0" width="12.3" height="3.2" fill="#5812b6" rx="1.6" filter="url(#b1)"/>
<rect x="1016.4" y="219.6" width="10.3" height="1.6" fill="#c4a8ea" filter="url(#b2)" opacity="0.55"/>
<rect x="1016.4" y="232.6" width="10.3" height="1.4" fill="#cdb0ea" filter="url(#b2)" opacity="0.45"/>
<rect x="837.0" y="307.4" width="13.0" height="4.8" fill="#7a2cd0" rx="2" filter="url(#b2)" opacity="0.95"/>
<rect x="837.5" y="314.0" width="12.0" height="2.0" fill="#c2a2e6" filter="url(#b2)" opacity="0.45"/>
<rect x="853.0" y="307.7" width="10.7" height="4.6" fill="#9a68dc" rx="2" filter="url(#b2)" opacity="0.7"/>
<rect x="853.5" y="314.2" width="9.7" height="2.0" fill="#c2a2e6" filter="url(#b2)" opacity="0.45"/>
<rect x="867.0" y="307.9" width="10.5" height="4.6" fill="#a883e0" rx="2" filter="url(#b2)" opacity="0.55"/>
<rect x="867.5" y="314.4" width="9.5" height="2.0" fill="#c2a2e6" filter="url(#b2)" opacity="0.45"/>
<rect x="880.5" y="307.6" width="10.7" height="4.8" fill="#9560da" rx="2" filter="url(#b2)" opacity="0.8"/>
<rect x="881.0" y="314.2" width="9.7" height="2.0" fill="#c2a2e6" filter="url(#b2)" opacity="0.45"/>
<rect x="894.4" y="307.8" width="10.9" height="4.8" fill="#9560da" rx="2" filter="url(#b2)" opacity="0.8"/>
<rect x="894.9" y="314.4" width="9.9" height="2.0" fill="#c2a2e6" filter="url(#b2)" opacity="0.45"/>
<rect x="908.1" y="307.3" width="11.5" height="5.0" fill="#8a50d8" rx="2" filter="url(#b2)" opacity="0.85"/>
<rect x="908.6" y="314.0" width="10.5" height="2.0" fill="#c2a2e6" filter="url(#b2)" opacity="0.45"/>
<rect x="921.8" y="312.7" width="9.2" height="2.6" fill="#c0a3e6" rx="2" filter="url(#b2)" opacity="0.5"/>
<rect x="922.3" y="318.2" width="8.2" height="2.0" fill="#c2a2e6" filter="url(#b2)" opacity="0.45"/>
<rect x="948.3" y="305.5" width="12.4" height="6.2" fill="#640fc4" rx="2" filter="url(#b2)" opacity="1.0"/>
<rect x="948.8" y="312.8" width="11.4" height="2.0" fill="#c2a2e6" filter="url(#b2)" opacity="0.45"/>
<rect x="963.3" y="306.1" width="9.8" height="5.0" fill="#9a68dc" rx="2" filter="url(#b2)" opacity="0.75"/>
<rect x="963.8" y="312.8" width="8.8" height="2.0" fill="#c2a2e6" filter="url(#b2)" opacity="0.45"/>
<rect x="977.3" y="306.0" width="9.5" height="4.8" fill="#b08ee4" rx="2" filter="url(#b2)" opacity="0.5"/>
<rect x="977.8" y="312.6" width="8.5" height="2.0" fill="#c2a2e6" filter="url(#b2)" opacity="0.45"/>
<rect x="990.3" y="305.4" width="11.2" height="5.0" fill="#9a68dc" rx="2" filter="url(#b2)" opacity="0.75"/>
<rect x="990.8" y="312.1" width="10.2" height="2.0" fill="#c2a2e6" filter="url(#b2)" opacity="0.45"/>
<rect x="1004.7" y="305.4" width="10.8" height="5.0" fill="#9a68dc" rx="2" filter="url(#b2)" opacity="0.75"/>
<rect x="1005.2" y="312.1" width="9.8" height="2.0" fill="#c2a2e6" filter="url(#b2)" opacity="0.45"/>
<rect x="1018.8" y="304.7" width="11.7" height="5.4" fill="#8c55da" rx="2" filter="url(#b2)" opacity="0.85"/>
<rect x="1019.3" y="311.6" width="10.7" height="2.0" fill="#c2a2e6" filter="url(#b2)" opacity="0.45"/>
<rect x="1033.8" y="311.5" width="11.7" height="2.4" fill="#c0a3e6" rx="2" filter="url(#b2)" opacity="0.5"/>
<rect x="1034.3" y="316.9" width="10.7" height="2.0" fill="#c2a2e6" filter="url(#b2)" opacity="0.45"/>
<rect x="854.5" y="337.0" width="8.5" height="2.0" fill="#c0a6e8" filter="url(#b2)" opacity="0.5"/>
<rect x="868.4" y="337.0" width="8.5" height="2.0" fill="#c0a6e8" filter="url(#b2)" opacity="0.5"/>
<rect x="882.0" y="337.0" width="8.5" height="2.0" fill="#c0a6e8" filter="url(#b2)" opacity="0.5"/>
<rect x="895.5" y="337.0" width="8.5" height="2.0" fill="#c0a6e8" filter="url(#b2)" opacity="0.5"/>
<rect x="908.8" y="337.0" width="8.5" height="2.0" fill="#c0a6e8" filter="url(#b2)" opacity="0.5"/>
<rect x="923.7" y="337.0" width="8.5" height="2.0" fill="#c0a6e8" filter="url(#b2)" opacity="0.5"/>
<rect x="965.0" y="337.0" width="8.5" height="2.0" fill="#c0a6e8" filter="url(#b2)" opacity="0.5"/>
<rect x="978.5" y="337.0" width="8.5" height="2.0" fill="#c0a6e8" filter="url(#b2)" opacity="0.5"/>
<rect x="991.6" y="337.0" width="8.5" height="2.0" fill="#c0a6e8" filter="url(#b2)" opacity="0.5"/>
<rect x="1005.2" y="337.0" width="8.5" height="2.0" fill="#c0a6e8" filter="url(#b2)" opacity="0.5"/>
<rect x="1019.0" y="337.0" width="8.5" height="2.0" fill="#c0a6e8" filter="url(#b2)" opacity="0.5"/>
<rect x="1034.7" y="337.0" width="8.5" height="2.0" fill="#c0a6e8" filter="url(#b2)" opacity="0.5"/>
<rect x="842.0" y="248.5" width="9.0" height="1.4" fill="#c9a2e0" filter="url(#b2)" opacity="0.6"/>
<rect x="842.0" y="256.5" width="9.0" height="1.4" fill="#c9a2e0" filter="url(#b2)" opacity="0.6"/>
<rect x="937.0" y="256.8" width="22.0" height="1.6" fill="#c9a2e0" filter="url(#b2)" opacity="0.6"/>
</g>
<text x="795.6" y="209.2" font-size="9.4" text-anchor="end" fill="#000" stroke="#000" stroke-width="0.25">250 kb</text>
<line x1="796.8" y1="205.8" x2="808.6" y2="205.8" stroke="#000" stroke-width="1.8"/>
<text x="795.6" y="226.7" font-size="9.4" text-anchor="end" fill="#000" stroke="#000" stroke-width="0.25">150 kb</text>
<line x1="796.8" y1="223.0" x2="808.6" y2="223.0" stroke="#000" stroke-width="1.8"/>
<text x="795.6" y="244.3" font-size="9.4" text-anchor="end" fill="#000" stroke="#000" stroke-width="0.25">100 kb</text>
<line x1="796.8" y1="240.9" x2="808.6" y2="240.9" stroke="#000" stroke-width="1.8"/>
<text x="795.6" y="254.1" font-size="9.4" text-anchor="end" fill="#000" stroke="#000" stroke-width="0.25">75 kb</text>
<line x1="796.8" y1="250.4" x2="808.6" y2="250.4" stroke="#000" stroke-width="1.8"/>
<text x="795.6" y="273.6" font-size="9.4" text-anchor="end" fill="#000" stroke="#000" stroke-width="0.25">50 kb</text>
<line x1="796.8" y1="271.0" x2="808.6" y2="271.0" stroke="#000" stroke-width="1.8"/>
<text x="795.6" y="290.6" font-size="9.4" text-anchor="end" fill="#000" stroke="#000" stroke-width="0.25">37 kb</text>
<line x1="796.8" y1="287.2" x2="808.6" y2="287.2" stroke="#000" stroke-width="1.8"/>
<text x="795.6" y="309.4" font-size="9.4" text-anchor="end" fill="#000" stroke="#000" stroke-width="0.25">25 kb</text>
<line x1="796.8" y1="306.8" x2="808.6" y2="306.8" stroke="#000" stroke-width="1.8"/>
<text x="795.6" y="320.7" font-size="9.4" text-anchor="end" fill="#000" stroke="#000" stroke-width="0.25">20 kb</text>
<line x1="796.8" y1="315.3" x2="808.6" y2="315.3" stroke="#000" stroke-width="1.8"/>
<path d="M1050.5 214.8 L1060.6 211 L1060.6 218.6 Z" fill="#ececec"/>
<path d="M1049.8 307.4 L1060.6 303.4 L1060.6 311.4 Z" fill="#6e6e6e"/>
<text x="1070.2" y="217.3" font-size="9.8" text-anchor="start" fill="#000" stroke="#000" stroke-width="0.25">mAb</text>
<text transform="translate(1070.4,312.3) scale(0.88,1)" font-size="9.9" text-anchor="start" fill="#000" stroke="#000" stroke-width="0.25">USAG-1</text>
<text transform="translate(1121.6,17.9) scale(0.97,1)" font-size="21" text-anchor="start" font-weight="bold" fill="#000">D</text>
<filter id="nR" x="0" y="0" width="100%" height="100%" color-interpolation-filters="sRGB"><feTurbulence type="fractalNoise" baseFrequency="0.24" numOctaves="3" seed="11" result="n"/><feColorMatrix in="n" type="matrix" values="0 0 0 0 0.8  0 0 0 0 0.07  0 0 0 0 0.22  3.4 0 0 0 -1.224"/><feComposite operator="in" in2="SourceGraphic"/></filter>
<filter id="nM" x="0" y="0" width="100%" height="100%" color-interpolation-filters="sRGB"><feTurbulence type="fractalNoise" baseFrequency="0.2" numOctaves="3" seed="29" result="n"/><feColorMatrix in="n" type="matrix" values="0 0 0 0 0.78  0 0 0 0 0.25  0 0 0 0 0.72  0 3.2 0 0 -1.344"/><feComposite operator="in" in2="SourceGraphic"/></filter>
<filter id="nU" x="0" y="0" width="100%" height="100%" color-interpolation-filters="sRGB"><feTurbulence type="fractalNoise" baseFrequency="0.3" numOctaves="2" seed="5" result="n"/><feColorMatrix in="n" type="matrix" values="0 0 0 0 0.09  0 0 0 0 0.07  0 0 0 0 0.74  0 3.5 0 0 -1.540"/><feComposite operator="in" in2="SourceGraphic"/></filter>
<filter id="nK" x="0" y="0" width="100%" height="100%" color-interpolation-filters="sRGB"><feTurbulence type="fractalNoise" baseFrequency="0.26" numOctaves="2" seed="23" result="n"/><feColorMatrix in="n" type="matrix" values="0 0 0 0 0.05  0 0 0 0 0.0  0 0 0 0 0.18  0 0 4 0 -1.920"/><feComposite operator="in" in2="SourceGraphic"/></filter>
<filter id="nS" x="0" y="0" width="100%" height="100%" color-interpolation-filters="sRGB"><feTurbulence type="fractalNoise" baseFrequency="0.4" numOctaves="2" seed="3" result="n"/><feColorMatrix in="n" type="matrix" values="0 0 0 0 0.36  0 0 0 0 0.38  0 0 0 0 1.0  0 0 7 0 -4.410"/><feComposite operator="in" in2="SourceGraphic"/></filter>
<filter id="bl6" x="-50%" y="-50%" width="200%" height="200%"><feGaussianBlur stdDeviation="6"/></filter>
<filter id="bl3" x="-50%" y="-50%" width="200%" height="200%"><feGaussianBlur stdDeviation="3.5"/></filter>
<clipPath id="t0"><rect x="1212" y="50" width="91" height="69"/></clipPath>
<g clip-path="url(#t0)">
<rect x="1212.0" y="50.0" width="91.0" height="69.0" fill="#06062c"/>
<ellipse cx="1248.4" cy="91.4" rx="36.4" ry="24.1" fill="#10106e" opacity="0.55" filter="url(#bl6)"/>
<rect x="1212.0" y="50.0" width="91.0" height="69.0" fill="#000" filter="url(#nU)" opacity="0.56"/>
<rect x="1212.0" y="50.0" width="91.0" height="69.0" fill="#000" filter="url(#nK)" opacity="0.7"/>
<rect x="1212.0" y="50.0" width="91.0" height="69.0" fill="#000" filter="url(#nS)" opacity="0.68"/>
<ellipse cx="1291.2" cy="70.7" rx="12.7" ry="27.6" fill="#000006" opacity="0.95" filter="url(#bl3)"/>
<ellipse cx="1298.5" cy="108.7" rx="7.3" ry="13.8" fill="#02020c" opacity="0.6" filter="url(#bl3)"/>
<ellipse cx="1239.3" cy="118.3" rx="27.3" ry="4.1" fill="#040414" opacity="0.5" filter="url(#bl3)"/>
</g>
<clipPath id="t1"><rect x="1303" y="50" width="92" height="69"/></clipPath>
<g clip-path="url(#t1)">
<rect x="1303.0" y="50.0" width="92.0" height="69.0" fill="#1c0838"/>
<ellipse cx="1358.2" cy="81.0" rx="32.2" ry="20.7" fill="#1c1161" opacity="0.5" filter="url(#bl6)"/>
<rect x="1303.0" y="50.0" width="92.0" height="69.0" fill="#000" filter="url(#nU)" opacity="0.36"/>
<rect x="1303.0" y="50.0" width="92.0" height="69.0" fill="#000" filter="url(#nK)" opacity="0.35"/>
<rect x="1303.0" y="50.0" width="92.0" height="69.0" fill="#000" filter="url(#nS)" opacity="0.54"/>
<ellipse cx="1316.8" cy="92.8" rx="18.4" ry="20.7" fill="#1c0830" opacity="0.8" filter="url(#bl3)"/>
<ellipse cx="1353.6" cy="116.9" rx="27.6" ry="5.5" fill="#16082e" opacity="0.6" filter="url(#bl3)"/>
</g>
<clipPath id="t2"><rect x="1121" y="119" width="91" height="68"/></clipPath>
<g clip-path="url(#t2)">
<rect x="1121.0" y="119.0" width="91.0" height="68.0" fill="#2e1674"/>
<ellipse cx="1189.2" cy="136.0" rx="27.3" ry="20.4" fill="#8c112b" opacity="0.55" filter="url(#bl6)"/>
<ellipse cx="1162.0" cy="166.6" rx="22.8" ry="13.6" fill="#801339" opacity="0.4" filter="url(#bl6)"/>
<ellipse cx="1130.1" cy="170.0" rx="13.7" ry="20.4" fill="#21197b" opacity="0.6" filter="url(#bl6)"/>
<rect x="1121.0" y="119.0" width="91.0" height="68.0" fill="#000" filter="url(#nR)" opacity="0.81"/>
<rect x="1121.0" y="119.0" width="91.0" height="68.0" fill="#000" filter="url(#nK)" opacity="0.55"/>
<rect x="1121.0" y="119.0" width="91.0" height="68.0" fill="#000" filter="url(#nS)" opacity="0.45"/>
<ellipse cx="1124.6" cy="123.1" rx="9.1" ry="6.8" fill="#0e0416" opacity="0.75" filter="url(#bl3)"/>
</g>
<clipPath id="t3"><rect x="1212" y="119" width="91" height="68"/></clipPath>
<g clip-path="url(#t3)">
<rect x="1212.0" y="119.0" width="91.0" height="68.0" fill="#29197b"/>
<ellipse cx="1280.2" cy="153.0" rx="20.0" ry="20.4" fill="#802c86" opacity="0.55" filter="url(#bl6)"/>
<ellipse cx="1239.3" cy="129.2" rx="22.8" ry="8.2" fill="#542073" opacity="0.4" filter="url(#bl6)"/>
<rect x="1212.0" y="119.0" width="91.0" height="68.0" fill="#000" filter="url(#nM)" opacity="0.22"/>
<rect x="1212.0" y="119.0" width="91.0" height="68.0" fill="#000" filter="url(#nR)" opacity="0.16"/>
<rect x="1212.0" y="119.0" width="91.0" height="68.0" fill="#000" filter="url(#nK)" opacity="0.55"/>
<rect x="1212.0" y="119.0" width="91.0" height="68.0" fill="#000" filter="url(#nS)" opacity="0.45"/>
<ellipse cx="1236.6" cy="175.4" rx="4.1" ry="4.4" fill="#0e0b36" opacity="0.85" filter="url(#bl3)"/>
</g>
<clipPath id="t4"><rect x="1303" y="120" width="92" height="67"/></clipPath>
<g clip-path="url(#t4)">
<rect x="1303.0" y="120.0" width="92.0" height="67.0" fill="#120c6e"/>
<ellipse cx="1344.4" cy="143.4" rx="32.2" ry="20.1" fill="#1c1c80" opacity="0.4" filter="url(#bl6)"/>
<rect x="1303.0" y="120.0" width="92.0" height="67.0" fill="#000" filter="url(#nU)" opacity="0.36"/>
<rect x="1303.0" y="120.0" width="92.0" height="67.0" fill="#000" filter="url(#nK)" opacity="0.6"/>
<rect x="1303.0" y="120.0" width="92.0" height="67.0" fill="#000" filter="url(#nS)" opacity="0.54"/>
</g>
<clipPath id="t5"><rect x="1121" y="215" width="91" height="68"/></clipPath>
<g clip-path="url(#t5)">
<rect x="1121.0" y="215.0" width="91.0" height="68.0" fill="#100c63"/>
<ellipse cx="1162.0" cy="255.8" rx="27.3" ry="20.4" fill="#1c1e80" opacity="0.4" filter="url(#bl6)"/>
<rect x="1121.0" y="215.0" width="91.0" height="68.0" fill="#000" filter="url(#nU)" opacity="0.36"/>
<rect x="1121.0" y="215.0" width="91.0" height="68.0" fill="#000" filter="url(#nK)" opacity="0.6"/>
<rect x="1121.0" y="215.0" width="91.0" height="68.0" fill="#000" filter="url(#nS)" opacity="0.54"/>
<ellipse cx="1202.9" cy="259.9" rx="13.7" ry="17.7" fill="#0b0839" opacity="0.9" filter="url(#bl3)"/>
<ellipse cx="1131.9" cy="245.6" rx="7.3" ry="8.2" fill="#0c0940" opacity="0.6" filter="url(#bl3)"/>
</g>
<clipPath id="t6"><rect x="1212" y="215" width="92" height="68"/></clipPath>
<g clip-path="url(#t6)">
<rect x="1212.0" y="215.0" width="92.0" height="68.0" fill="#0f0a5c"/>
<ellipse cx="1271.8" cy="255.8" rx="27.6" ry="17.0" fill="#191976" opacity="0.4" filter="url(#bl6)"/>
<rect x="1212.0" y="215.0" width="92.0" height="68.0" fill="#000" filter="url(#nU)" opacity="0.34"/>
<rect x="1212.0" y="215.0" width="92.0" height="68.0" fill="#000" filter="url(#nK)" opacity="0.6"/>
<rect x="1212.0" y="215.0" width="92.0" height="68.0" fill="#000" filter="url(#nS)" opacity="0.5"/>
<ellipse cx="1221.2" cy="235.4" rx="11.0" ry="13.6" fill="#0e0b48" opacity="0.7" filter="url(#bl3)"/>
</g>
<clipPath id="t7"><rect x="1304" y="215" width="91" height="68"/></clipPath>
<g clip-path="url(#t7)">
<rect x="1304.0" y="215.0" width="91.0" height="68.0" fill="#370630"/>
<ellipse cx="1345.0" cy="242.2" rx="31.8" ry="10.9" fill="#372379" opacity="0.6" filter="url(#bl6)"/>
<ellipse cx="1376.8" cy="249.0" rx="16.4" ry="13.6" fill="#372073" opacity="0.5" filter="url(#bl6)"/>
<ellipse cx="1331.3" cy="223.2" rx="13.7" ry="6.8" fill="#2e2073" opacity="0.45" filter="url(#bl6)"/>
<rect x="1304.0" y="215.0" width="91.0" height="68.0" fill="#000" filter="url(#nU)" opacity="0.24"/>
<rect x="1304.0" y="215.0" width="91.0" height="68.0" fill="#000" filter="url(#nK)" opacity="0.3"/>
<rect x="1304.0" y="215.0" width="91.0" height="68.0" fill="#000" filter="url(#nS)" opacity="0.45"/>
<ellipse cx="1314.9" cy="266.0" rx="16.4" ry="20.4" fill="#2a0424" opacity="0.9" filter="url(#bl3)"/>
<ellipse cx="1354.0" cy="228.6" rx="10.9" ry="8.2" fill="#2c0425" opacity="0.7" filter="url(#bl3)"/>
<ellipse cx="1358.6" cy="272.8" rx="18.2" ry="8.2" fill="#2a0424" opacity="0.6" filter="url(#bl3)"/>
</g>
<clipPath id="t8"><rect x="1120" y="283" width="92" height="68"/></clipPath>
<g clip-path="url(#t8)">
<rect x="1120.0" y="283.0" width="92.0" height="68.0" fill="#2b0420"/>
<ellipse cx="1161.4" cy="327.2" rx="27.6" ry="20.4" fill="#41196e" opacity="0.7" filter="url(#bl6)"/>
<ellipse cx="1138.4" cy="340.8" rx="18.4" ry="10.2" fill="#36145e" opacity="0.5" filter="url(#bl6)"/>
<rect x="1120.0" y="283.0" width="92.0" height="68.0" fill="#000" filter="url(#nU)" opacity="0.24"/>
<rect x="1120.0" y="283.0" width="92.0" height="68.0" fill="#000" filter="url(#nR)" opacity="0.11"/>
<rect x="1120.0" y="283.0" width="92.0" height="68.0" fill="#000" filter="url(#nK)" opacity="0.3"/>
<rect x="1120.0" y="283.0" width="92.0" height="68.0" fill="#000" filter="url(#nS)" opacity="0.14"/>
<ellipse cx="1198.2" cy="303.4" rx="13.8" ry="20.4" fill="#260319" opacity="0.8" filter="url(#bl3)"/>
<ellipse cx="1156.8" cy="288.4" rx="36.8" ry="6.8" fill="#260319" opacity="0.7" filter="url(#bl3)"/>
</g>
<clipPath id="t9"><rect x="1212" y="283" width="92" height="69"/></clipPath>
<g clip-path="url(#t9)">
<rect x="1212.0" y="283.0" width="92.0" height="69.0" fill="#0f0a63"/>
<ellipse cx="1267.2" cy="303.7" rx="27.6" ry="17.2" fill="#1b1b79" opacity="0.4" filter="url(#bl6)"/>
<rect x="1212.0" y="283.0" width="92.0" height="69.0" fill="#000" filter="url(#nU)" opacity="0.34"/>
<rect x="1212.0" y="283.0" width="92.0" height="69.0" fill="#000" filter="url(#nK)" opacity="0.6"/>
<rect x="1212.0" y="283.0" width="92.0" height="69.0" fill="#000" filter="url(#nS)" opacity="0.5"/>
<ellipse cx="1281.0" cy="334.8" rx="13.8" ry="10.3" fill="#100e54" opacity="0.5" filter="url(#bl3)"/>
</g>
<clipPath id="t10"><rect x="1304" y="283" width="91" height="68"/></clipPath>
<g clip-path="url(#t10)">
<rect x="1304.0" y="283.0" width="91.0" height="68.0" fill="#4b1c76"/>
<ellipse cx="1322.2" cy="330.6" rx="22.8" ry="20.4" fill="#99143b" opacity="0.5" filter="url(#bl6)"/>
<ellipse cx="1381.3" cy="340.8" rx="13.7" ry="10.2" fill="#8c1648" opacity="0.5" filter="url(#bl6)"/>
<rect x="1304.0" y="283.0" width="91.0" height="68.0" fill="#000" filter="url(#nR)" opacity="0.7"/>
<rect x="1304.0" y="283.0" width="91.0" height="68.0" fill="#000" filter="url(#nM)" opacity="0.42"/>
<rect x="1304.0" y="283.0" width="91.0" height="68.0" fill="#000" filter="url(#nK)" opacity="0.4"/>
<rect x="1304.0" y="283.0" width="91.0" height="68.0" fill="#000" filter="url(#nS)" opacity="0.5"/>
</g>
<line x1="1303.0" y1="119.5" x2="1395.0" y2="119.5" stroke="#5a5a98" stroke-width="1"/>
<text transform="translate(1212.2,49.7) scale(1.15,1)" font-size="11" text-anchor="start" font-weight="bold" fill="#000" stroke="#000" stroke-width="0.5">#12</text>
<text transform="translate(1303.5,49.7) scale(1.15,1)" font-size="11" text-anchor="start" font-weight="bold" fill="#000" stroke="#000" stroke-width="0.5">#16</text>
<text transform="translate(1121.1,209.2) scale(1.15,1)" font-size="11" text-anchor="start" font-weight="bold" fill="#000" stroke="#000" stroke-width="0.5">#37</text>
<text transform="translate(1212.9,209.2) scale(1.15,1)" font-size="11" text-anchor="start" font-weight="bold" fill="#000" stroke="#000" stroke-width="0.5">#48</text>
<text transform="translate(1304.0,209.2) scale(1.15,1)" font-size="11" text-anchor="start" font-weight="bold" fill="#000" stroke="#000" stroke-width="0.5">#57</text>
<text transform="translate(1117.9,70.4) scale(1.11,1)" font-size="10.8" text-anchor="start" font-weight="bold" fill="#000" stroke="#000" stroke-width="0.5">Human USAG1</text>
<text transform="translate(1129.8,93.7) scale(1.1,1)" font-size="10.8" font-weight="bold" stroke-width="0.4"><tspan fill="#dc1f3c" stroke="#dc1f3c">USAG1</tspan><tspan fill="#111" stroke="#111">/</tspan><tspan fill="#3558dc" stroke="#3558dc">DAPI</tspan></text>
<text transform="translate(1121.8,114.8) scale(1.06,1)" font-size="10.8" text-anchor="start" font-weight="bold" fill="#000" stroke="#000" stroke-width="0.5">FLAG</text>
<text transform="translate(1215.6,68.9) scale(1.08,1)" font-size="16.2" text-anchor="start" font-weight="bold" fill="#fff" stroke="#fff" stroke-width="0.5">(−)</text>
<text transform="translate(1304.3,68.9) scale(1.08,1)" font-size="16.2" text-anchor="start" font-weight="bold" fill="#fff" stroke="#fff" stroke-width="0.5">(−)</text>
<text transform="translate(1214.1,137.7) scale(1.08,1)" font-size="16.2" text-anchor="start" font-weight="bold" fill="#fff" stroke="#fff" stroke-width="0.5">(+)</text>
<text transform="translate(1303.8,139.5) scale(1.08,1)" font-size="16.2" text-anchor="start" font-weight="bold" fill="#fff" stroke="#fff" stroke-width="0.5">(+)</text>
<text transform="translate(1124.4,233.8) scale(1.08,1)" font-size="16.2" text-anchor="start" font-weight="bold" fill="#fff" stroke="#fff" stroke-width="0.5">(−)</text>
<text transform="translate(1214.9,233.8) scale(1.08,1)" font-size="16.2" text-anchor="start" font-weight="bold" fill="#fff" stroke="#fff" stroke-width="0.5">(−)</text>
<text transform="translate(1304.6,233.8) scale(1.08,1)" font-size="16.2" text-anchor="start" font-weight="bold" fill="#fff" stroke="#fff" stroke-width="0.5">(−)</text>
<text transform="translate(1123.4,305.2) scale(1.08,1)" font-size="16.2" text-anchor="start" font-weight="bold" fill="#fff" stroke="#fff" stroke-width="0.5">(+)</text>
<text transform="translate(1214.1,305.2) scale(1.08,1)" font-size="16.2" text-anchor="start" font-weight="bold" fill="#fff" stroke="#fff" stroke-width="0.5">(+)</text>
<text transform="translate(1303.8,305.2) scale(1.08,1)" font-size="16.2" text-anchor="start" font-weight="bold" fill="#fff" stroke="#fff" stroke-width="0.5">(+)</text>
<text x="1358.4" y="272.3" font-size="9.8" text-anchor="start" fill="#fff">100 µm</text>
<line x1="1377.4" y1="276.3" x2="1387.8" y2="276.3" stroke="#fff" stroke-width="1.5"/>
<text transform="translate(893.6,441.9) scale(0.775,1)" font-size="21" text-anchor="start" font-weight="bold" fill="#000" stroke="#000" stroke-width="0.6">E</text>
<rect x="968.4" y="452.1" width="248.8" height="201.3" fill="#fff" stroke="#000" stroke-width="2"/>
<line x1="1037.5" y1="452.1" x2="1037.5" y2="653.4" stroke="#000" stroke-width="2"/>
<line x1="968.4" y1="501.6" x2="1217.2" y2="501.6" stroke="#000" stroke-width="2"/>
<line x1="968.4" y1="532.2" x2="1217.2" y2="532.2" stroke="#000" stroke-width="2"/>
<line x1="968.4" y1="562.4" x2="1217.2" y2="562.4" stroke="#000" stroke-width="2"/>
<line x1="968.4" y1="592.8" x2="1217.2" y2="592.8" stroke="#000" stroke-width="2"/>
<line x1="968.4" y1="623.3" x2="1217.2" y2="623.3" stroke="#000" stroke-width="2"/>
<text x="980.8" y="472.8" font-size="13.9" text-anchor="start" font-weight="bold" fill="#000">mAb</text>
<text x="980.8" y="492.8" font-size="13.9" text-anchor="start" font-weight="bold" fill="#000">no.</text>
<text x="1048.2" y="473.0" font-size="14.6" font-weight="bold"><tspan font-style="italic">K</tspan><tspan font-size="11.5" dy="3.4" dx="0.3">D</tspan><tspan dy="-3.4" dx="0.5"> (nM)</tspan></text>
<text x="984.6" y="522.4" font-size="14.4" fill="#111"><tspan font-family='"DejaVu Sans", sans-serif' font-size="16.5" dy="0.8" stroke="#111" stroke-width="0.45">♯</tspan><tspan x="997.3" dy="-0.8">12</tspan></text>
<text x="1049.2" y="523.3" font-size="15.3" text-anchor="start" fill="#111">3.86</text>
<text x="984.6" y="552.8" font-size="14.4" fill="#111"><tspan font-family='"DejaVu Sans", sans-serif' font-size="16.5" dy="0.8" stroke="#111" stroke-width="0.45">♯</tspan><tspan x="997.3" dy="-0.8">16</tspan></text>
<text x="1049.2" y="553.7" font-size="15.3" text-anchor="start" fill="#111">7.15</text>
<text x="984.6" y="583.0" font-size="14.4" fill="#111"><tspan font-family='"DejaVu Sans", sans-serif' font-size="16.5" dy="0.8" stroke="#111" stroke-width="0.45">♯</tspan><tspan x="997.3" dy="-0.8">37</tspan></text>
<text x="1049.2" y="583.9" font-size="15.3" text-anchor="start" fill="#111">2.43</text>
<text x="984.6" y="613.6" font-size="14.4" fill="#111"><tspan font-family='"DejaVu Sans", sans-serif' font-size="16.5" dy="0.8" stroke="#111" stroke-width="0.45">♯</tspan><tspan x="997.3" dy="-0.8">48</tspan></text>
<text x="1049.2" y="614.5" font-size="15.3" text-anchor="start" fill="#111">3.92</text>
<text x="984.6" y="643.8" font-size="14.4" fill="#111"><tspan font-family='"DejaVu Sans", sans-serif' font-size="16.5" dy="0.8" stroke="#111" stroke-width="0.45">♯</tspan><tspan x="997.3" dy="-0.8">57</tspan></text>
<text x="1049.2" y="644.7" font-size="15.3" text-anchor="start" fill="#111">2.44</text>
</svg></body></html>
